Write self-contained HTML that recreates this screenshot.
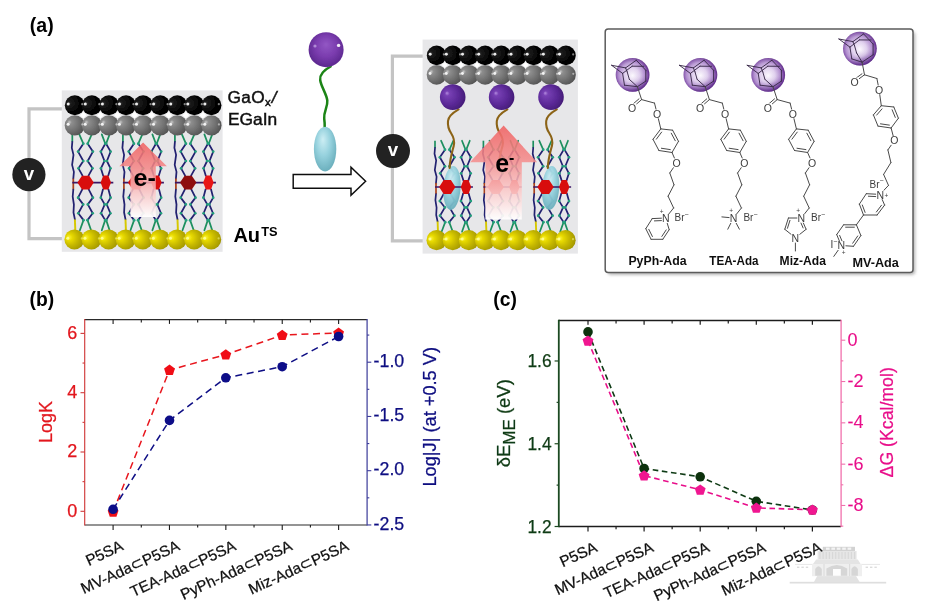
<!DOCTYPE html>
<html lang="en"><head><meta charset="utf-8"><title>Figure</title>
<style>html,body{margin:0;padding:0;background:#fff;overflow:hidden}svg{display:block;font-family:'Liberation Sans', sans-serif}</style></head><body>
<svg width="929" height="610" viewBox="0 0 929 610">
<rect x="0" y="0" width="929" height="610" fill="#ffffff"/>
<defs>
<radialGradient id="gBlack" cx="0.32" cy="0.36" r="0.75" fx="0.2" fy="0.42"><stop offset="0" stop-color="#5a5a5a"/><stop offset="0.12" stop-color="#1c1c1c"/><stop offset="0.6" stop-color="#050505"/><stop offset="1" stop-color="#000"/></radialGradient>
<radialGradient id="gGrey" cx="0.35" cy="0.38" r="0.8" fx="0.22" fy="0.34"><stop offset="0" stop-color="#c8c8c8"/><stop offset="0.14" stop-color="#8e8e8e"/><stop offset="0.55" stop-color="#6e6e6e"/><stop offset="1" stop-color="#484848"/></radialGradient>
<radialGradient id="gGold" cx="0.4" cy="0.45" r="0.75" fx="0.2" fy="0.4"><stop offset="0" stop-color="#fdf440"/><stop offset="0.2" stop-color="#e8da00"/><stop offset="0.5" stop-color="#c6b800"/><stop offset="0.8" stop-color="#a89c00"/><stop offset="1" stop-color="#7a6e00"/></radialGradient>
<radialGradient id="gPurp" cx="0.42" cy="0.48" r="0.72" fx="0.27" fy="0.34"><stop offset="0" stop-color="#b48ae0"/><stop offset="0.13" stop-color="#7740b4"/><stop offset="0.55" stop-color="#5a2896"/><stop offset="1" stop-color="#3a1668"/></radialGradient>
<radialGradient id="gPurpBig" cx="0.5" cy="0.45" r="0.62" fx="0.5" fy="0.35"><stop offset="0" stop-color="#9257c4"/><stop offset="0.5" stop-color="#7a3cae"/><stop offset="0.85" stop-color="#5f2a92"/><stop offset="1" stop-color="#6d3a9c"/></radialGradient>
<radialGradient id="gAda" cx="0.47" cy="0.52" r="0.54" fx="0.5" fy="0.52"><stop offset="0" stop-color="#fbf8fd"/><stop offset="0.4" stop-color="#e0d0ee"/><stop offset="0.72" stop-color="#b08cce"/><stop offset="0.92" stop-color="#6f3a9a"/><stop offset="1" stop-color="#5a2880"/></radialGradient>
<linearGradient id="gAdaShade" x1="0.3" y1="0" x2="0.6" y2="1"><stop offset="0" stop-color="#ffffff" stop-opacity="0.18"/><stop offset="0.55" stop-color="#ffffff" stop-opacity="0"/><stop offset="0.75" stop-color="#4a1a78" stop-opacity="0.1"/><stop offset="1" stop-color="#4a1a78" stop-opacity="0.6"/></linearGradient>
<radialGradient id="gCyan" cx="0.45" cy="0.4" r="0.7" fx="0.4" fy="0.28"><stop offset="0" stop-color="#cdeef4"/><stop offset="0.45" stop-color="#97d2de"/><stop offset="1" stop-color="#5fa6b4"/></radialGradient>
<linearGradient id="gArrow" x1="0" y1="0" x2="0" y2="1"><stop offset="0" stop-color="#f06464" stop-opacity="0.9"/><stop offset="0.35" stop-color="#f48888" stop-opacity="0.86"/><stop offset="0.7" stop-color="#fbcccc" stop-opacity="0.88"/><stop offset="1" stop-color="#ffffff" stop-opacity="0.95"/></linearGradient>
<filter id="blur1" x="-20%" y="-20%" width="140%" height="140%"><feGaussianBlur stdDeviation="0.6"/></filter>
<filter id="blur2" x="-20%" y="-20%" width="140%" height="140%"><feGaussianBlur stdDeviation="1.5"/></filter>
<filter id="soft" x="-5%" y="-5%" width="110%" height="110%"><feGaussianBlur stdDeviation="0.45"/></filter>
<filter id="softAll" x="0" y="0" width="929" height="610" filterUnits="userSpaceOnUse"><feGaussianBlur stdDeviation="0.42"/></filter>
</defs>
<g id="all" filter="url(#softAll)">
<g id="dev-left">
<polyline points="62,108.8 29,108.8 29,238.6 62,238.6" stroke="#c4c4c4" stroke-width="3.2" fill="none"/>
<rect x="61.8" y="90.4" width="160.8" height="161.4" fill="#e7e7e9"/>
<g>
<line x1="72.3" y1="134.4" x2="72.3" y2="141.9" stroke="#1f8f5f" stroke-width="1.75"/>
<polyline points="72.3,141.9 71.8,147.9 73.5,154.9 72.1,164.9 73.9,171.9 73.3,178.6" stroke="#222070" stroke-width="1.75" fill="none" stroke-linejoin="round" stroke-linecap="round"/>
<line x1="73.3" y1="178.6" x2="73.3" y2="189.6" stroke="#a8401c" stroke-width="1.75"/>
<polyline points="73.3,189.6 72.7,196.54 73.9,204.5 73.5,212.47 74.9,219.44" stroke="#222070" stroke-width="1.75" fill="none" stroke-linejoin="round" stroke-linecap="round"/>
<line x1="74.9" y1="219.44" x2="75.3" y2="230.3" stroke="#d6c800" stroke-width="1.95"/>
<polyline points="82.5,175.7 78.5,168.3 83.3,161 78.1,151.6 83.3,143.7" stroke="#222070" stroke-width="1.75" fill="none" stroke-linejoin="round" stroke-linecap="round"/>
<line x1="83.3" y1="143.7" x2="79.3" y2="134.4" stroke="#1f8f5f" stroke-width="1.75" stroke-linecap="round"/>
<polyline points="82.3,189.27 78.1,197.63 83.2,204.4 78.3,213.27 83.5,220.14" stroke="#222070" stroke-width="1.75" fill="none" stroke-linejoin="round" stroke-linecap="round"/>
<line x1="83.5" y1="220.14" x2="79.9" y2="230.3" stroke="#1f8f5f" stroke-width="1.75" stroke-linecap="round"/>
<circle cx="78.5" cy="168.3" r="1.35" fill="#22a07c"/>
<circle cx="83.3" cy="161" r="1.35" fill="#22a07c"/>
<circle cx="78.1" cy="151.6" r="1.35" fill="#22a07c"/>
<circle cx="83.3" cy="143.7" r="1.35" fill="#22a07c"/>
<circle cx="78.1" cy="197.63" r="1.35" fill="#22a07c"/>
<circle cx="83.2" cy="204.4" r="1.35" fill="#22a07c"/>
<circle cx="78.3" cy="213.27" r="1.35" fill="#22a07c"/>
<circle cx="83.5" cy="220.14" r="1.35" fill="#22a07c"/>
<polyline points="88.5,175.7 92.5,168.3 87.7,161 92.9,151.6 87.7,143.7" stroke="#222070" stroke-width="1.75" fill="none" stroke-linejoin="round" stroke-linecap="round"/>
<line x1="87.7" y1="143.7" x2="91.7" y2="134.4" stroke="#1f8f5f" stroke-width="1.75" stroke-linecap="round"/>
<polyline points="88.7,189.27 92.9,197.63 87.8,204.4 92.7,213.27 87.5,220.14" stroke="#222070" stroke-width="1.75" fill="none" stroke-linejoin="round" stroke-linecap="round"/>
<line x1="87.5" y1="220.14" x2="91.1" y2="230.3" stroke="#1f8f5f" stroke-width="1.75" stroke-linecap="round"/>
<circle cx="92.5" cy="168.3" r="1.35" fill="#22a07c"/>
<circle cx="87.7" cy="161" r="1.35" fill="#22a07c"/>
<circle cx="92.9" cy="151.6" r="1.35" fill="#22a07c"/>
<circle cx="87.7" cy="143.7" r="1.35" fill="#22a07c"/>
<circle cx="92.9" cy="197.63" r="1.35" fill="#22a07c"/>
<circle cx="87.8" cy="204.4" r="1.35" fill="#22a07c"/>
<circle cx="92.7" cy="213.27" r="1.35" fill="#22a07c"/>
<circle cx="87.5" cy="220.14" r="1.35" fill="#22a07c"/>
<polyline points="103.2,175.7 100.9,168.3 104.5,161 100.8,151.6 105.3,143.7" stroke="#222070" stroke-width="1.75" fill="none" stroke-linejoin="round" stroke-linecap="round"/>
<line x1="105.3" y1="143.7" x2="101.8" y2="134.4" stroke="#1f8f5f" stroke-width="1.75" stroke-linecap="round"/>
<polyline points="103,189.27 100.8,197.63 104.7,204.4 101,213.27 105.2,220.14" stroke="#222070" stroke-width="1.75" fill="none" stroke-linejoin="round" stroke-linecap="round"/>
<line x1="105.2" y1="220.14" x2="101.8" y2="230.3" stroke="#1f8f5f" stroke-width="1.75" stroke-linecap="round"/>
<circle cx="100.9" cy="168.3" r="1.35" fill="#22a07c"/>
<circle cx="104.5" cy="161" r="1.35" fill="#22a07c"/>
<circle cx="100.8" cy="151.6" r="1.35" fill="#22a07c"/>
<circle cx="105.3" cy="143.7" r="1.35" fill="#22a07c"/>
<circle cx="100.8" cy="197.63" r="1.35" fill="#22a07c"/>
<circle cx="104.7" cy="204.4" r="1.35" fill="#22a07c"/>
<circle cx="101" cy="213.27" r="1.35" fill="#22a07c"/>
<circle cx="105.2" cy="220.14" r="1.35" fill="#22a07c"/>
<polyline points="108.2,175.7 110.5,168.3 106.9,161 110.6,151.6 106.1,143.7" stroke="#222070" stroke-width="1.75" fill="none" stroke-linejoin="round" stroke-linecap="round"/>
<line x1="106.1" y1="143.7" x2="109.6" y2="134.4" stroke="#1f8f5f" stroke-width="1.75" stroke-linecap="round"/>
<polyline points="108.4,189.27 110.6,197.63 106.7,204.4 110.4,213.27 106.2,220.14" stroke="#222070" stroke-width="1.75" fill="none" stroke-linejoin="round" stroke-linecap="round"/>
<line x1="106.2" y1="220.14" x2="109.6" y2="230.3" stroke="#1f8f5f" stroke-width="1.75" stroke-linecap="round"/>
<circle cx="110.5" cy="168.3" r="1.35" fill="#22a07c"/>
<circle cx="106.9" cy="161" r="1.35" fill="#22a07c"/>
<circle cx="110.6" cy="151.6" r="1.35" fill="#22a07c"/>
<circle cx="106.1" cy="143.7" r="1.35" fill="#22a07c"/>
<circle cx="110.6" cy="197.63" r="1.35" fill="#22a07c"/>
<circle cx="106.7" cy="204.4" r="1.35" fill="#22a07c"/>
<circle cx="110.4" cy="213.27" r="1.35" fill="#22a07c"/>
<circle cx="106.2" cy="220.14" r="1.35" fill="#22a07c"/>
<line x1="72.3" y1="182.6" x2="113.3" y2="182.6" stroke="#3a1466" stroke-width="1.75"/>
<polygon points="77.4,182.6 82,175.7 89.2,175.7 93.8,182.6 89.2,189.5 82,189.5" fill="#d80c0c" stroke="none" stroke-width="0"/>
<polygon points="100.6,182.6 103.3,175.6 108.3,175.6 111,182.6 108.3,189.6 103.3,189.6" fill="#d80c0c" stroke="none" stroke-width="0"/>
</g>
<g>
<line x1="122.9" y1="134.4" x2="122.9" y2="141.9" stroke="#1f8f5f" stroke-width="1.75"/>
<polyline points="122.9,141.9 122.4,147.9 124.1,154.9 122.7,164.9 124.5,171.9 123.9,178.6" stroke="#222070" stroke-width="1.75" fill="none" stroke-linejoin="round" stroke-linecap="round"/>
<line x1="123.9" y1="178.6" x2="123.9" y2="189.6" stroke="#a8401c" stroke-width="1.75"/>
<polyline points="123.9,189.6 123.3,196.54 124.5,204.5 124.1,212.47 125.5,219.44" stroke="#222070" stroke-width="1.75" fill="none" stroke-linejoin="round" stroke-linecap="round"/>
<line x1="125.5" y1="219.44" x2="125.9" y2="230.3" stroke="#d6c800" stroke-width="1.95"/>
<polyline points="133.1,175.7 129.1,168.3 133.9,161 128.7,151.6 133.9,143.7" stroke="#222070" stroke-width="1.75" fill="none" stroke-linejoin="round" stroke-linecap="round"/>
<line x1="133.9" y1="143.7" x2="129.9" y2="134.4" stroke="#1f8f5f" stroke-width="1.75" stroke-linecap="round"/>
<polyline points="132.9,189.27 128.7,197.63 133.8,204.4 128.9,213.27 134.1,220.14" stroke="#222070" stroke-width="1.75" fill="none" stroke-linejoin="round" stroke-linecap="round"/>
<line x1="134.1" y1="220.14" x2="130.5" y2="230.3" stroke="#1f8f5f" stroke-width="1.75" stroke-linecap="round"/>
<circle cx="129.1" cy="168.3" r="1.35" fill="#22a07c"/>
<circle cx="133.9" cy="161" r="1.35" fill="#22a07c"/>
<circle cx="128.7" cy="151.6" r="1.35" fill="#22a07c"/>
<circle cx="133.9" cy="143.7" r="1.35" fill="#22a07c"/>
<circle cx="128.7" cy="197.63" r="1.35" fill="#22a07c"/>
<circle cx="133.8" cy="204.4" r="1.35" fill="#22a07c"/>
<circle cx="128.9" cy="213.27" r="1.35" fill="#22a07c"/>
<circle cx="134.1" cy="220.14" r="1.35" fill="#22a07c"/>
<polyline points="139.1,175.7 143.1,168.3 138.3,161 143.5,151.6 138.3,143.7" stroke="#222070" stroke-width="1.75" fill="none" stroke-linejoin="round" stroke-linecap="round"/>
<line x1="138.3" y1="143.7" x2="142.3" y2="134.4" stroke="#1f8f5f" stroke-width="1.75" stroke-linecap="round"/>
<polyline points="139.3,189.27 143.5,197.63 138.4,204.4 143.3,213.27 138.1,220.14" stroke="#222070" stroke-width="1.75" fill="none" stroke-linejoin="round" stroke-linecap="round"/>
<line x1="138.1" y1="220.14" x2="141.7" y2="230.3" stroke="#1f8f5f" stroke-width="1.75" stroke-linecap="round"/>
<circle cx="143.1" cy="168.3" r="1.35" fill="#22a07c"/>
<circle cx="138.3" cy="161" r="1.35" fill="#22a07c"/>
<circle cx="143.5" cy="151.6" r="1.35" fill="#22a07c"/>
<circle cx="138.3" cy="143.7" r="1.35" fill="#22a07c"/>
<circle cx="143.5" cy="197.63" r="1.35" fill="#22a07c"/>
<circle cx="138.4" cy="204.4" r="1.35" fill="#22a07c"/>
<circle cx="143.3" cy="213.27" r="1.35" fill="#22a07c"/>
<circle cx="138.1" cy="220.14" r="1.35" fill="#22a07c"/>
<polyline points="153.8,175.7 151.5,168.3 155.1,161 151.4,151.6 155.9,143.7" stroke="#222070" stroke-width="1.75" fill="none" stroke-linejoin="round" stroke-linecap="round"/>
<line x1="155.9" y1="143.7" x2="152.4" y2="134.4" stroke="#1f8f5f" stroke-width="1.75" stroke-linecap="round"/>
<polyline points="153.6,189.27 151.4,197.63 155.3,204.4 151.6,213.27 155.8,220.14" stroke="#222070" stroke-width="1.75" fill="none" stroke-linejoin="round" stroke-linecap="round"/>
<line x1="155.8" y1="220.14" x2="152.4" y2="230.3" stroke="#1f8f5f" stroke-width="1.75" stroke-linecap="round"/>
<circle cx="151.5" cy="168.3" r="1.35" fill="#22a07c"/>
<circle cx="155.1" cy="161" r="1.35" fill="#22a07c"/>
<circle cx="151.4" cy="151.6" r="1.35" fill="#22a07c"/>
<circle cx="155.9" cy="143.7" r="1.35" fill="#22a07c"/>
<circle cx="151.4" cy="197.63" r="1.35" fill="#22a07c"/>
<circle cx="155.3" cy="204.4" r="1.35" fill="#22a07c"/>
<circle cx="151.6" cy="213.27" r="1.35" fill="#22a07c"/>
<circle cx="155.8" cy="220.14" r="1.35" fill="#22a07c"/>
<polyline points="158.8,175.7 161.1,168.3 157.5,161 161.2,151.6 156.7,143.7" stroke="#222070" stroke-width="1.75" fill="none" stroke-linejoin="round" stroke-linecap="round"/>
<line x1="156.7" y1="143.7" x2="160.2" y2="134.4" stroke="#1f8f5f" stroke-width="1.75" stroke-linecap="round"/>
<polyline points="159,189.27 161.2,197.63 157.3,204.4 161,213.27 156.8,220.14" stroke="#222070" stroke-width="1.75" fill="none" stroke-linejoin="round" stroke-linecap="round"/>
<line x1="156.8" y1="220.14" x2="160.2" y2="230.3" stroke="#1f8f5f" stroke-width="1.75" stroke-linecap="round"/>
<circle cx="161.1" cy="168.3" r="1.35" fill="#22a07c"/>
<circle cx="157.5" cy="161" r="1.35" fill="#22a07c"/>
<circle cx="161.2" cy="151.6" r="1.35" fill="#22a07c"/>
<circle cx="156.7" cy="143.7" r="1.35" fill="#22a07c"/>
<circle cx="161.2" cy="197.63" r="1.35" fill="#22a07c"/>
<circle cx="157.3" cy="204.4" r="1.35" fill="#22a07c"/>
<circle cx="161" cy="213.27" r="1.35" fill="#22a07c"/>
<circle cx="156.8" cy="220.14" r="1.35" fill="#22a07c"/>
<line x1="122.9" y1="182.6" x2="163.9" y2="182.6" stroke="#3a1466" stroke-width="1.75"/>
<polygon points="128,182.6 132.6,175.7 139.8,175.7 144.4,182.6 139.8,189.5 132.6,189.5" fill="#d80c0c" stroke="none" stroke-width="0"/>
<polygon points="151.2,182.6 153.9,175.6 158.9,175.6 161.6,182.6 158.9,189.6 153.9,189.6" fill="#d80c0c" stroke="none" stroke-width="0"/>
</g>
<g>
<line x1="174.9" y1="134.4" x2="174.9" y2="141.9" stroke="#1f8f5f" stroke-width="1.75"/>
<polyline points="174.9,141.9 174.4,147.9 176.1,154.9 174.7,164.9 176.5,171.9 175.9,178.6" stroke="#222070" stroke-width="1.75" fill="none" stroke-linejoin="round" stroke-linecap="round"/>
<line x1="175.9" y1="178.6" x2="175.9" y2="189.6" stroke="#a8401c" stroke-width="1.75"/>
<polyline points="175.9,189.6 175.3,196.54 176.5,204.5 176.1,212.47 177.5,219.44" stroke="#222070" stroke-width="1.75" fill="none" stroke-linejoin="round" stroke-linecap="round"/>
<line x1="177.5" y1="219.44" x2="177.9" y2="230.3" stroke="#d6c800" stroke-width="1.95"/>
<polyline points="185.1,175.7 181.1,168.3 185.9,161 180.7,151.6 185.9,143.7" stroke="#222070" stroke-width="1.75" fill="none" stroke-linejoin="round" stroke-linecap="round"/>
<line x1="185.9" y1="143.7" x2="181.9" y2="134.4" stroke="#1f8f5f" stroke-width="1.75" stroke-linecap="round"/>
<polyline points="184.9,189.27 180.7,197.63 185.8,204.4 180.9,213.27 186.1,220.14" stroke="#222070" stroke-width="1.75" fill="none" stroke-linejoin="round" stroke-linecap="round"/>
<line x1="186.1" y1="220.14" x2="182.5" y2="230.3" stroke="#1f8f5f" stroke-width="1.75" stroke-linecap="round"/>
<circle cx="181.1" cy="168.3" r="1.35" fill="#22a07c"/>
<circle cx="185.9" cy="161" r="1.35" fill="#22a07c"/>
<circle cx="180.7" cy="151.6" r="1.35" fill="#22a07c"/>
<circle cx="185.9" cy="143.7" r="1.35" fill="#22a07c"/>
<circle cx="180.7" cy="197.63" r="1.35" fill="#22a07c"/>
<circle cx="185.8" cy="204.4" r="1.35" fill="#22a07c"/>
<circle cx="180.9" cy="213.27" r="1.35" fill="#22a07c"/>
<circle cx="186.1" cy="220.14" r="1.35" fill="#22a07c"/>
<polyline points="191.1,175.7 195.1,168.3 190.3,161 195.5,151.6 190.3,143.7" stroke="#222070" stroke-width="1.75" fill="none" stroke-linejoin="round" stroke-linecap="round"/>
<line x1="190.3" y1="143.7" x2="194.3" y2="134.4" stroke="#1f8f5f" stroke-width="1.75" stroke-linecap="round"/>
<polyline points="191.3,189.27 195.5,197.63 190.4,204.4 195.3,213.27 190.1,220.14" stroke="#222070" stroke-width="1.75" fill="none" stroke-linejoin="round" stroke-linecap="round"/>
<line x1="190.1" y1="220.14" x2="193.7" y2="230.3" stroke="#1f8f5f" stroke-width="1.75" stroke-linecap="round"/>
<circle cx="195.1" cy="168.3" r="1.35" fill="#22a07c"/>
<circle cx="190.3" cy="161" r="1.35" fill="#22a07c"/>
<circle cx="195.5" cy="151.6" r="1.35" fill="#22a07c"/>
<circle cx="190.3" cy="143.7" r="1.35" fill="#22a07c"/>
<circle cx="195.5" cy="197.63" r="1.35" fill="#22a07c"/>
<circle cx="190.4" cy="204.4" r="1.35" fill="#22a07c"/>
<circle cx="195.3" cy="213.27" r="1.35" fill="#22a07c"/>
<circle cx="190.1" cy="220.14" r="1.35" fill="#22a07c"/>
<polyline points="205.8,175.7 203.5,168.3 207.1,161 203.4,151.6 207.9,143.7" stroke="#222070" stroke-width="1.75" fill="none" stroke-linejoin="round" stroke-linecap="round"/>
<line x1="207.9" y1="143.7" x2="204.4" y2="134.4" stroke="#1f8f5f" stroke-width="1.75" stroke-linecap="round"/>
<polyline points="205.6,189.27 203.4,197.63 207.3,204.4 203.6,213.27 207.8,220.14" stroke="#222070" stroke-width="1.75" fill="none" stroke-linejoin="round" stroke-linecap="round"/>
<line x1="207.8" y1="220.14" x2="204.4" y2="230.3" stroke="#1f8f5f" stroke-width="1.75" stroke-linecap="round"/>
<circle cx="203.5" cy="168.3" r="1.35" fill="#22a07c"/>
<circle cx="207.1" cy="161" r="1.35" fill="#22a07c"/>
<circle cx="203.4" cy="151.6" r="1.35" fill="#22a07c"/>
<circle cx="207.9" cy="143.7" r="1.35" fill="#22a07c"/>
<circle cx="203.4" cy="197.63" r="1.35" fill="#22a07c"/>
<circle cx="207.3" cy="204.4" r="1.35" fill="#22a07c"/>
<circle cx="203.6" cy="213.27" r="1.35" fill="#22a07c"/>
<circle cx="207.8" cy="220.14" r="1.35" fill="#22a07c"/>
<polyline points="210.8,175.7 213.1,168.3 209.5,161 213.2,151.6 208.7,143.7" stroke="#222070" stroke-width="1.75" fill="none" stroke-linejoin="round" stroke-linecap="round"/>
<line x1="208.7" y1="143.7" x2="212.2" y2="134.4" stroke="#1f8f5f" stroke-width="1.75" stroke-linecap="round"/>
<polyline points="211,189.27 213.2,197.63 209.3,204.4 213,213.27 208.8,220.14" stroke="#222070" stroke-width="1.75" fill="none" stroke-linejoin="round" stroke-linecap="round"/>
<line x1="208.8" y1="220.14" x2="212.2" y2="230.3" stroke="#1f8f5f" stroke-width="1.75" stroke-linecap="round"/>
<circle cx="213.1" cy="168.3" r="1.35" fill="#22a07c"/>
<circle cx="209.5" cy="161" r="1.35" fill="#22a07c"/>
<circle cx="213.2" cy="151.6" r="1.35" fill="#22a07c"/>
<circle cx="208.7" cy="143.7" r="1.35" fill="#22a07c"/>
<circle cx="213.2" cy="197.63" r="1.35" fill="#22a07c"/>
<circle cx="209.3" cy="204.4" r="1.35" fill="#22a07c"/>
<circle cx="213" cy="213.27" r="1.35" fill="#22a07c"/>
<circle cx="208.8" cy="220.14" r="1.35" fill="#22a07c"/>
<line x1="174.9" y1="182.6" x2="215.9" y2="182.6" stroke="#3a1466" stroke-width="1.75"/>
<polygon points="180,182.6 184.6,175.7 191.8,175.7 196.4,182.6 191.8,189.5 184.6,189.5" fill="#8e0a0a" stroke="none" stroke-width="0"/>
<polygon points="203.2,182.6 205.9,175.6 210.9,175.6 213.6,182.6 210.9,189.6 205.9,189.6" fill="#e81414" stroke="none" stroke-width="0"/>
</g>
<polygon points="143.1,142.6 166.9,166.3 155.8,166.3 155.8,217 130.4,217 130.4,166.3 119.3,166.3" fill="url(#gArrow)" stroke="none" stroke-width="0"/>
<polygon points="80.04,115.3 83.34,112 86.64,115.3 83.34,118.6" fill="#ffffff" stroke="none" stroke-width="0"/>
<polygon points="97.12,115.3 100.42,112 103.72,115.3 100.42,118.6" fill="#ffffff" stroke="none" stroke-width="0"/>
<polygon points="114.2,115.3 117.5,112 120.8,115.3 117.5,118.6" fill="#ffffff" stroke="none" stroke-width="0"/>
<polygon points="131.28,115.3 134.58,112 137.88,115.3 134.58,118.6" fill="#ffffff" stroke="none" stroke-width="0"/>
<polygon points="148.36,115.3 151.66,112 154.96,115.3 151.66,118.6" fill="#ffffff" stroke="none" stroke-width="0"/>
<polygon points="165.44,115.3 168.74,112 172.04,115.3 168.74,118.6" fill="#ffffff" stroke="none" stroke-width="0"/>
<polygon points="182.52,115.3 185.82,112 189.12,115.3 185.82,118.6" fill="#ffffff" stroke="none" stroke-width="0"/>
<polygon points="199.6,115.3 202.9,112 206.2,115.3 202.9,118.6" fill="#ffffff" stroke="none" stroke-width="0"/>
<circle cx="74.8" cy="105.2" r="10" fill="url(#gBlack)"/>
<circle cx="91.88" cy="105.2" r="10" fill="url(#gBlack)"/>
<circle cx="108.96" cy="105.2" r="10" fill="url(#gBlack)"/>
<circle cx="126.04" cy="105.2" r="10" fill="url(#gBlack)"/>
<circle cx="143.12" cy="105.2" r="10" fill="url(#gBlack)"/>
<circle cx="160.2" cy="105.2" r="10" fill="url(#gBlack)"/>
<circle cx="177.28" cy="105.2" r="10" fill="url(#gBlack)"/>
<circle cx="194.36" cy="105.2" r="10" fill="url(#gBlack)"/>
<circle cx="211.44" cy="105.2" r="10" fill="url(#gBlack)"/>
<circle cx="68.2" cy="104" r="1.5" fill="#ffffff" opacity="0.9" filter="url(#blur1)"/>
<circle cx="82.2" cy="104.2" r="1.1" fill="#ffffff" opacity="0.49500000000000005" filter="url(#blur1)"/>
<circle cx="85.28" cy="104" r="1.5" fill="#ffffff" opacity="0.9" filter="url(#blur1)"/>
<circle cx="99.28" cy="104.2" r="1.1" fill="#ffffff" opacity="0.49500000000000005" filter="url(#blur1)"/>
<circle cx="102.36" cy="104" r="1.5" fill="#ffffff" opacity="0.9" filter="url(#blur1)"/>
<circle cx="116.36" cy="104.2" r="1.1" fill="#ffffff" opacity="0.49500000000000005" filter="url(#blur1)"/>
<circle cx="119.44" cy="104" r="1.5" fill="#ffffff" opacity="0.9" filter="url(#blur1)"/>
<circle cx="133.44" cy="104.2" r="1.1" fill="#ffffff" opacity="0.49500000000000005" filter="url(#blur1)"/>
<circle cx="136.52" cy="104" r="1.5" fill="#ffffff" opacity="0.9" filter="url(#blur1)"/>
<circle cx="150.52" cy="104.2" r="1.1" fill="#ffffff" opacity="0.49500000000000005" filter="url(#blur1)"/>
<circle cx="153.6" cy="104" r="1.5" fill="#ffffff" opacity="0.9" filter="url(#blur1)"/>
<circle cx="167.6" cy="104.2" r="1.1" fill="#ffffff" opacity="0.49500000000000005" filter="url(#blur1)"/>
<circle cx="170.68" cy="104" r="1.5" fill="#ffffff" opacity="0.9" filter="url(#blur1)"/>
<circle cx="184.68" cy="104.2" r="1.1" fill="#ffffff" opacity="0.49500000000000005" filter="url(#blur1)"/>
<circle cx="187.76" cy="104" r="1.5" fill="#ffffff" opacity="0.9" filter="url(#blur1)"/>
<circle cx="201.76" cy="104.2" r="1.1" fill="#ffffff" opacity="0.49500000000000005" filter="url(#blur1)"/>
<circle cx="204.84" cy="104" r="1.5" fill="#ffffff" opacity="0.9" filter="url(#blur1)"/>
<circle cx="218.84" cy="104.2" r="1.1" fill="#ffffff" opacity="0.49500000000000005" filter="url(#blur1)"/>
<circle cx="74.8" cy="125.4" r="10.1" fill="url(#gGrey)"/>
<circle cx="91.88" cy="125.4" r="10.1" fill="url(#gGrey)"/>
<circle cx="108.96" cy="125.4" r="10.1" fill="url(#gGrey)"/>
<circle cx="126.04" cy="125.4" r="10.1" fill="url(#gGrey)"/>
<circle cx="143.12" cy="125.4" r="10.1" fill="url(#gGrey)"/>
<circle cx="160.2" cy="125.4" r="10.1" fill="url(#gGrey)"/>
<circle cx="177.28" cy="125.4" r="10.1" fill="url(#gGrey)"/>
<circle cx="194.36" cy="125.4" r="10.1" fill="url(#gGrey)"/>
<circle cx="211.44" cy="125.4" r="10.1" fill="url(#gGrey)"/>
<circle cx="68.13" cy="124.19" r="1.51" fill="#ffffff" opacity="0.9" filter="url(#blur1)"/>
<circle cx="82.27" cy="124.39" r="1.11" fill="#ffffff" opacity="0.49500000000000005" filter="url(#blur1)"/>
<circle cx="85.21" cy="124.19" r="1.51" fill="#ffffff" opacity="0.9" filter="url(#blur1)"/>
<circle cx="99.35" cy="124.39" r="1.11" fill="#ffffff" opacity="0.49500000000000005" filter="url(#blur1)"/>
<circle cx="102.29" cy="124.19" r="1.51" fill="#ffffff" opacity="0.9" filter="url(#blur1)"/>
<circle cx="116.43" cy="124.39" r="1.11" fill="#ffffff" opacity="0.49500000000000005" filter="url(#blur1)"/>
<circle cx="119.37" cy="124.19" r="1.51" fill="#ffffff" opacity="0.9" filter="url(#blur1)"/>
<circle cx="133.51" cy="124.39" r="1.11" fill="#ffffff" opacity="0.49500000000000005" filter="url(#blur1)"/>
<circle cx="136.45" cy="124.19" r="1.51" fill="#ffffff" opacity="0.9" filter="url(#blur1)"/>
<circle cx="150.59" cy="124.39" r="1.11" fill="#ffffff" opacity="0.49500000000000005" filter="url(#blur1)"/>
<circle cx="153.53" cy="124.19" r="1.51" fill="#ffffff" opacity="0.9" filter="url(#blur1)"/>
<circle cx="167.67" cy="124.39" r="1.11" fill="#ffffff" opacity="0.49500000000000005" filter="url(#blur1)"/>
<circle cx="170.61" cy="124.19" r="1.51" fill="#ffffff" opacity="0.9" filter="url(#blur1)"/>
<circle cx="184.75" cy="124.39" r="1.11" fill="#ffffff" opacity="0.49500000000000005" filter="url(#blur1)"/>
<circle cx="187.69" cy="124.19" r="1.51" fill="#ffffff" opacity="0.9" filter="url(#blur1)"/>
<circle cx="201.83" cy="124.39" r="1.11" fill="#ffffff" opacity="0.49500000000000005" filter="url(#blur1)"/>
<circle cx="204.77" cy="124.19" r="1.51" fill="#ffffff" opacity="0.9" filter="url(#blur1)"/>
<circle cx="218.91" cy="124.39" r="1.11" fill="#ffffff" opacity="0.49500000000000005" filter="url(#blur1)"/>
<circle cx="74.4" cy="239.4" r="10" fill="url(#gGold)"/>
<circle cx="91.5" cy="239.4" r="10" fill="url(#gGold)"/>
<circle cx="108.6" cy="239.4" r="10" fill="url(#gGold)"/>
<circle cx="125.7" cy="239.4" r="10" fill="url(#gGold)"/>
<circle cx="142.8" cy="239.4" r="10" fill="url(#gGold)"/>
<circle cx="159.9" cy="239.4" r="10" fill="url(#gGold)"/>
<circle cx="177" cy="239.4" r="10" fill="url(#gGold)"/>
<circle cx="194.1" cy="239.4" r="10" fill="url(#gGold)"/>
<circle cx="211.2" cy="239.4" r="10" fill="url(#gGold)"/>
<circle cx="67.8" cy="238.2" r="1.5" fill="#ffff9a" opacity="0.9" filter="url(#blur1)"/>
<circle cx="81.8" cy="238.4" r="1.1" fill="#ffff9a" opacity="0.49500000000000005" filter="url(#blur1)"/>
<circle cx="84.9" cy="238.2" r="1.5" fill="#ffff9a" opacity="0.9" filter="url(#blur1)"/>
<circle cx="98.9" cy="238.4" r="1.1" fill="#ffff9a" opacity="0.49500000000000005" filter="url(#blur1)"/>
<circle cx="102" cy="238.2" r="1.5" fill="#ffff9a" opacity="0.9" filter="url(#blur1)"/>
<circle cx="116" cy="238.4" r="1.1" fill="#ffff9a" opacity="0.49500000000000005" filter="url(#blur1)"/>
<circle cx="119.1" cy="238.2" r="1.5" fill="#ffff9a" opacity="0.9" filter="url(#blur1)"/>
<circle cx="133.1" cy="238.4" r="1.1" fill="#ffff9a" opacity="0.49500000000000005" filter="url(#blur1)"/>
<circle cx="136.2" cy="238.2" r="1.5" fill="#ffff9a" opacity="0.9" filter="url(#blur1)"/>
<circle cx="150.2" cy="238.4" r="1.1" fill="#ffff9a" opacity="0.49500000000000005" filter="url(#blur1)"/>
<circle cx="153.3" cy="238.2" r="1.5" fill="#ffff9a" opacity="0.9" filter="url(#blur1)"/>
<circle cx="167.3" cy="238.4" r="1.1" fill="#ffff9a" opacity="0.49500000000000005" filter="url(#blur1)"/>
<circle cx="170.4" cy="238.2" r="1.5" fill="#ffff9a" opacity="0.9" filter="url(#blur1)"/>
<circle cx="184.4" cy="238.4" r="1.1" fill="#ffff9a" opacity="0.49500000000000005" filter="url(#blur1)"/>
<circle cx="187.5" cy="238.2" r="1.5" fill="#ffff9a" opacity="0.9" filter="url(#blur1)"/>
<circle cx="201.5" cy="238.4" r="1.1" fill="#ffff9a" opacity="0.49500000000000005" filter="url(#blur1)"/>
<circle cx="204.6" cy="238.2" r="1.5" fill="#ffff9a" opacity="0.9" filter="url(#blur1)"/>
<circle cx="218.6" cy="238.4" r="1.1" fill="#ffff9a" opacity="0.49500000000000005" filter="url(#blur1)"/>
<text x="133.4" y="186.2" font-size="23" fill="#000" font-weight="bold" text-anchor="start" textLength="22.4" lengthAdjust="spacingAndGlyphs">e-</text>
<circle cx="28.9" cy="174.6" r="16.6" fill="#222222"/>
<text x="28.9" y="179.7" font-size="18.75" fill="#fff" font-weight="bold" text-anchor="middle">v</text>
<text x="227.4" y="103.2" font-size="17.3" fill="#111" stroke="#111" stroke-width="0.45" letter-spacing="0.35">GaO<tspan font-size="11.5" dy="3">x</tspan><tspan dy="-3" dx="0.8" font-style="italic">/</tspan></text>
<text x="228" y="124.5" font-size="17" fill="#111" font-weight="normal" text-anchor="start" textLength="49.2" lengthAdjust="spacingAndGlyphs" stroke="#111" stroke-width="0.45">EGaIn</text>
<text x="233.4" y="242.2" font-size="20" font-weight="bold" fill="#000">Au<tspan font-size="12.8" dy="-6.1" dx="1.2">TS</tspan></text>
<text x="29.8" y="31.6" font-size="19.5" fill="#000" font-weight="bold" text-anchor="start">(a)</text>
</g>
<g id="mid">
<path d="M330.6 66.5 C 325 69.5, 319.4 73.5, 320.2 80 S 326.6 94, 327.3 100.5 S 323.4 112, 324.2 118.5 S 324.8 124, 324.6 129" stroke="#1c8418" stroke-width="2.5" fill="none" stroke-linecap="round"/>
<ellipse cx="325.1" cy="149.1" rx="11.2" ry="22.4" fill="url(#gCyan)"/>
<circle cx="326.1" cy="49.7" r="17.5" fill="url(#gPurpBig)"/>
<circle cx="338.6" cy="45.4" r="1.7" fill="#fff" opacity="0.9" filter="url(#blur1)"/><circle cx="315" cy="46" r="1.6" fill="#e8d8ff" opacity="0.5" filter="url(#blur1)"/>
<polygon points="293.2,174.4 351,174.4 351,167.2 365.6,181.3 351,195.3 351,188.2 293.2,188.2" fill="#fff" stroke="#111" stroke-width="1.5"/>
</g>
<g id="dev-right">
<polyline points="423,56.2 392.4,56.2 392.4,240.8 423,240.8" stroke="#c4c4c4" stroke-width="3.2" fill="none"/>
<rect x="422.6" y="39.6" width="155.3" height="214" fill="#e7e7e9"/>
<g>
<line x1="435" y1="140.7" x2="435" y2="147.96" stroke="#1f8f5f" stroke-width="1.7"/>
<polyline points="435,147.96 434.5,153.71 436.2,160.43 434.8,170.02 436.6,176.74 436,183" stroke="#222070" stroke-width="1.7" fill="none" stroke-linejoin="round" stroke-linecap="round"/>
<line x1="436" y1="183" x2="436" y2="194" stroke="#a8401c" stroke-width="1.7"/>
<polyline points="436,194 435.4,200.05 436.6,207.51 436.2,214.97 437.6,221.5" stroke="#222070" stroke-width="1.7" fill="none" stroke-linejoin="round" stroke-linecap="round"/>
<line x1="437.6" y1="221.5" x2="438" y2="231.8" stroke="#d6c800" stroke-width="1.9"/>
<polyline points="444.21,180.38 440.21,173.28 445.01,166.28 439.81,157.26 445.01,149.68" stroke="#222070" stroke-width="1.7" fill="none" stroke-linejoin="round" stroke-linecap="round"/>
<line x1="445.01" y1="149.68" x2="441.01" y2="140.7" stroke="#1f8f5f" stroke-width="1.7" stroke-linecap="round"/>
<polyline points="444.01,193.25 439.81,201.08 444.91,207.42 440.01,215.72 445.21,222.15" stroke="#222070" stroke-width="1.7" fill="none" stroke-linejoin="round" stroke-linecap="round"/>
<line x1="445.21" y1="222.15" x2="441.61" y2="231.8" stroke="#1f8f5f" stroke-width="1.7" stroke-linecap="round"/>
<circle cx="440.21" cy="173.28" r="1.35" fill="#22a07c"/>
<circle cx="445.01" cy="166.28" r="1.35" fill="#22a07c"/>
<circle cx="439.81" cy="157.26" r="1.35" fill="#22a07c"/>
<circle cx="445.01" cy="149.68" r="1.35" fill="#22a07c"/>
<circle cx="439.81" cy="201.08" r="1.35" fill="#22a07c"/>
<circle cx="444.91" cy="207.42" r="1.35" fill="#22a07c"/>
<circle cx="440.01" cy="215.72" r="1.35" fill="#22a07c"/>
<circle cx="445.21" cy="222.15" r="1.35" fill="#22a07c"/>
<polyline points="450.21,180.38 454.21,173.28 449.41,166.28 454.61,157.26 449.41,149.68" stroke="#222070" stroke-width="1.7" fill="none" stroke-linejoin="round" stroke-linecap="round"/>
<line x1="449.41" y1="149.68" x2="453.41" y2="140.7" stroke="#1f8f5f" stroke-width="1.7" stroke-linecap="round"/>
<polyline points="450.41,193.25 454.61,201.08 449.51,207.42 454.41,215.72 449.21,222.15" stroke="#222070" stroke-width="1.7" fill="none" stroke-linejoin="round" stroke-linecap="round"/>
<line x1="449.21" y1="222.15" x2="452.81" y2="231.8" stroke="#1f8f5f" stroke-width="1.7" stroke-linecap="round"/>
<circle cx="454.21" cy="173.28" r="1.35" fill="#22a07c"/>
<circle cx="449.41" cy="166.28" r="1.35" fill="#22a07c"/>
<circle cx="454.61" cy="157.26" r="1.35" fill="#22a07c"/>
<circle cx="449.41" cy="149.68" r="1.35" fill="#22a07c"/>
<circle cx="454.61" cy="201.08" r="1.35" fill="#22a07c"/>
<circle cx="449.51" cy="207.42" r="1.35" fill="#22a07c"/>
<circle cx="454.41" cy="215.72" r="1.35" fill="#22a07c"/>
<circle cx="449.21" cy="222.15" r="1.35" fill="#22a07c"/>
<polyline points="463.39,180.38 461.09,173.28 464.69,166.28 461,157.26 465.5,149.68" stroke="#222070" stroke-width="1.7" fill="none" stroke-linejoin="round" stroke-linecap="round"/>
<line x1="465.5" y1="149.68" x2="462" y2="140.7" stroke="#1f8f5f" stroke-width="1.7" stroke-linecap="round"/>
<polyline points="463.19,193.25 461,201.08 464.89,207.42 461.19,215.72 465.39,222.15" stroke="#222070" stroke-width="1.7" fill="none" stroke-linejoin="round" stroke-linecap="round"/>
<line x1="465.39" y1="222.15" x2="462" y2="231.8" stroke="#1f8f5f" stroke-width="1.7" stroke-linecap="round"/>
<circle cx="461.09" cy="173.28" r="1.35" fill="#22a07c"/>
<circle cx="464.69" cy="166.28" r="1.35" fill="#22a07c"/>
<circle cx="461" cy="157.26" r="1.35" fill="#22a07c"/>
<circle cx="465.5" cy="149.68" r="1.35" fill="#22a07c"/>
<circle cx="461" cy="201.08" r="1.35" fill="#22a07c"/>
<circle cx="464.89" cy="207.42" r="1.35" fill="#22a07c"/>
<circle cx="461.19" cy="215.72" r="1.35" fill="#22a07c"/>
<circle cx="465.39" cy="222.15" r="1.35" fill="#22a07c"/>
<polyline points="468.39,180.38 470.69,173.28 467.09,166.28 470.79,157.26 466.29,149.68" stroke="#222070" stroke-width="1.7" fill="none" stroke-linejoin="round" stroke-linecap="round"/>
<line x1="466.29" y1="149.68" x2="469.79" y2="140.7" stroke="#1f8f5f" stroke-width="1.7" stroke-linecap="round"/>
<polyline points="468.59,193.25 470.79,201.08 466.89,207.42 470.59,215.72 466.39,222.15" stroke="#222070" stroke-width="1.7" fill="none" stroke-linejoin="round" stroke-linecap="round"/>
<line x1="466.39" y1="222.15" x2="469.79" y2="231.8" stroke="#1f8f5f" stroke-width="1.7" stroke-linecap="round"/>
<circle cx="470.69" cy="173.28" r="1.35" fill="#22a07c"/>
<circle cx="467.09" cy="166.28" r="1.35" fill="#22a07c"/>
<circle cx="470.79" cy="157.26" r="1.35" fill="#22a07c"/>
<circle cx="466.29" cy="149.68" r="1.35" fill="#22a07c"/>
<circle cx="470.79" cy="201.08" r="1.35" fill="#22a07c"/>
<circle cx="466.89" cy="207.42" r="1.35" fill="#22a07c"/>
<circle cx="470.59" cy="215.72" r="1.35" fill="#22a07c"/>
<circle cx="466.39" cy="222.15" r="1.35" fill="#22a07c"/>
</g>
<g>
<line x1="483.4" y1="140.7" x2="483.4" y2="147.96" stroke="#1f8f5f" stroke-width="1.7"/>
<polyline points="483.4,147.96 482.9,153.71 484.6,160.43 483.2,170.02 485,176.74 484.4,183" stroke="#222070" stroke-width="1.7" fill="none" stroke-linejoin="round" stroke-linecap="round"/>
<line x1="484.4" y1="183" x2="484.4" y2="194" stroke="#a8401c" stroke-width="1.7"/>
<polyline points="484.4,194 483.8,200.05 485,207.51 484.6,214.97 486,221.5" stroke="#222070" stroke-width="1.7" fill="none" stroke-linejoin="round" stroke-linecap="round"/>
<line x1="486" y1="221.5" x2="486.4" y2="231.8" stroke="#d6c800" stroke-width="1.9"/>
<polyline points="492.61,180.38 488.61,173.28 493.41,166.28 488.21,157.26 493.41,149.68" stroke="#222070" stroke-width="1.7" fill="none" stroke-linejoin="round" stroke-linecap="round"/>
<line x1="493.41" y1="149.68" x2="489.41" y2="140.7" stroke="#1f8f5f" stroke-width="1.7" stroke-linecap="round"/>
<polyline points="492.41,193.25 488.21,201.08 493.31,207.42 488.41,215.72 493.61,222.15" stroke="#222070" stroke-width="1.7" fill="none" stroke-linejoin="round" stroke-linecap="round"/>
<line x1="493.61" y1="222.15" x2="490.01" y2="231.8" stroke="#1f8f5f" stroke-width="1.7" stroke-linecap="round"/>
<circle cx="488.61" cy="173.28" r="1.35" fill="#22a07c"/>
<circle cx="493.41" cy="166.28" r="1.35" fill="#22a07c"/>
<circle cx="488.21" cy="157.26" r="1.35" fill="#22a07c"/>
<circle cx="493.41" cy="149.68" r="1.35" fill="#22a07c"/>
<circle cx="488.21" cy="201.08" r="1.35" fill="#22a07c"/>
<circle cx="493.31" cy="207.42" r="1.35" fill="#22a07c"/>
<circle cx="488.41" cy="215.72" r="1.35" fill="#22a07c"/>
<circle cx="493.61" cy="222.15" r="1.35" fill="#22a07c"/>
<polyline points="498.61,180.38 502.61,173.28 497.81,166.28 503.01,157.26 497.81,149.68" stroke="#222070" stroke-width="1.7" fill="none" stroke-linejoin="round" stroke-linecap="round"/>
<line x1="497.81" y1="149.68" x2="501.81" y2="140.7" stroke="#1f8f5f" stroke-width="1.7" stroke-linecap="round"/>
<polyline points="498.81,193.25 503.01,201.08 497.91,207.42 502.81,215.72 497.61,222.15" stroke="#222070" stroke-width="1.7" fill="none" stroke-linejoin="round" stroke-linecap="round"/>
<line x1="497.61" y1="222.15" x2="501.21" y2="231.8" stroke="#1f8f5f" stroke-width="1.7" stroke-linecap="round"/>
<circle cx="502.61" cy="173.28" r="1.35" fill="#22a07c"/>
<circle cx="497.81" cy="166.28" r="1.35" fill="#22a07c"/>
<circle cx="503.01" cy="157.26" r="1.35" fill="#22a07c"/>
<circle cx="497.81" cy="149.68" r="1.35" fill="#22a07c"/>
<circle cx="503.01" cy="201.08" r="1.35" fill="#22a07c"/>
<circle cx="497.91" cy="207.42" r="1.35" fill="#22a07c"/>
<circle cx="502.81" cy="215.72" r="1.35" fill="#22a07c"/>
<circle cx="497.61" cy="222.15" r="1.35" fill="#22a07c"/>
<polyline points="511.79,180.38 509.49,173.28 513.09,166.28 509.39,157.26 513.89,149.68" stroke="#222070" stroke-width="1.7" fill="none" stroke-linejoin="round" stroke-linecap="round"/>
<line x1="513.89" y1="149.68" x2="510.39" y2="140.7" stroke="#1f8f5f" stroke-width="1.7" stroke-linecap="round"/>
<polyline points="511.59,193.25 509.39,201.08 513.29,207.42 509.59,215.72 513.79,222.15" stroke="#222070" stroke-width="1.7" fill="none" stroke-linejoin="round" stroke-linecap="round"/>
<line x1="513.79" y1="222.15" x2="510.39" y2="231.8" stroke="#1f8f5f" stroke-width="1.7" stroke-linecap="round"/>
<circle cx="509.49" cy="173.28" r="1.35" fill="#22a07c"/>
<circle cx="513.09" cy="166.28" r="1.35" fill="#22a07c"/>
<circle cx="509.39" cy="157.26" r="1.35" fill="#22a07c"/>
<circle cx="513.89" cy="149.68" r="1.35" fill="#22a07c"/>
<circle cx="509.39" cy="201.08" r="1.35" fill="#22a07c"/>
<circle cx="513.29" cy="207.42" r="1.35" fill="#22a07c"/>
<circle cx="509.59" cy="215.72" r="1.35" fill="#22a07c"/>
<circle cx="513.79" cy="222.15" r="1.35" fill="#22a07c"/>
<polyline points="516.79,180.38 519.09,173.28 515.5,166.28 519.19,157.26 514.69,149.68" stroke="#222070" stroke-width="1.7" fill="none" stroke-linejoin="round" stroke-linecap="round"/>
<line x1="514.69" y1="149.68" x2="518.19" y2="140.7" stroke="#1f8f5f" stroke-width="1.7" stroke-linecap="round"/>
<polyline points="517,193.25 519.19,201.08 515.29,207.42 519,215.72 514.79,222.15" stroke="#222070" stroke-width="1.7" fill="none" stroke-linejoin="round" stroke-linecap="round"/>
<line x1="514.79" y1="222.15" x2="518.19" y2="231.8" stroke="#1f8f5f" stroke-width="1.7" stroke-linecap="round"/>
<circle cx="519.09" cy="173.28" r="1.35" fill="#22a07c"/>
<circle cx="515.5" cy="166.28" r="1.35" fill="#22a07c"/>
<circle cx="519.19" cy="157.26" r="1.35" fill="#22a07c"/>
<circle cx="514.69" cy="149.68" r="1.35" fill="#22a07c"/>
<circle cx="519.19" cy="201.08" r="1.35" fill="#22a07c"/>
<circle cx="515.29" cy="207.42" r="1.35" fill="#22a07c"/>
<circle cx="519" cy="215.72" r="1.35" fill="#22a07c"/>
<circle cx="514.79" cy="222.15" r="1.35" fill="#22a07c"/>
</g>
<g>
<line x1="533.2" y1="140.7" x2="533.2" y2="147.96" stroke="#1f8f5f" stroke-width="1.7"/>
<polyline points="533.2,147.96 532.7,153.71 534.4,160.43 533,170.02 534.8,176.74 534.2,183" stroke="#222070" stroke-width="1.7" fill="none" stroke-linejoin="round" stroke-linecap="round"/>
<line x1="534.2" y1="183" x2="534.2" y2="194" stroke="#a8401c" stroke-width="1.7"/>
<polyline points="534.2,194 533.6,200.05 534.8,207.51 534.4,214.97 535.8,221.5" stroke="#222070" stroke-width="1.7" fill="none" stroke-linejoin="round" stroke-linecap="round"/>
<line x1="535.8" y1="221.5" x2="536.2" y2="231.8" stroke="#d6c800" stroke-width="1.9"/>
<polyline points="542.41,180.38 538.41,173.28 543.21,166.28 538.01,157.26 543.21,149.68" stroke="#222070" stroke-width="1.7" fill="none" stroke-linejoin="round" stroke-linecap="round"/>
<line x1="543.21" y1="149.68" x2="539.21" y2="140.7" stroke="#1f8f5f" stroke-width="1.7" stroke-linecap="round"/>
<polyline points="542.21,193.25 538.01,201.08 543.11,207.42 538.21,215.72 543.41,222.15" stroke="#222070" stroke-width="1.7" fill="none" stroke-linejoin="round" stroke-linecap="round"/>
<line x1="543.41" y1="222.15" x2="539.81" y2="231.8" stroke="#1f8f5f" stroke-width="1.7" stroke-linecap="round"/>
<circle cx="538.41" cy="173.28" r="1.35" fill="#22a07c"/>
<circle cx="543.21" cy="166.28" r="1.35" fill="#22a07c"/>
<circle cx="538.01" cy="157.26" r="1.35" fill="#22a07c"/>
<circle cx="543.21" cy="149.68" r="1.35" fill="#22a07c"/>
<circle cx="538.01" cy="201.08" r="1.35" fill="#22a07c"/>
<circle cx="543.11" cy="207.42" r="1.35" fill="#22a07c"/>
<circle cx="538.21" cy="215.72" r="1.35" fill="#22a07c"/>
<circle cx="543.41" cy="222.15" r="1.35" fill="#22a07c"/>
<polyline points="548.41,180.38 552.41,173.28 547.61,166.28 552.81,157.26 547.61,149.68" stroke="#222070" stroke-width="1.7" fill="none" stroke-linejoin="round" stroke-linecap="round"/>
<line x1="547.61" y1="149.68" x2="551.61" y2="140.7" stroke="#1f8f5f" stroke-width="1.7" stroke-linecap="round"/>
<polyline points="548.61,193.25 552.81,201.08 547.71,207.42 552.61,215.72 547.41,222.15" stroke="#222070" stroke-width="1.7" fill="none" stroke-linejoin="round" stroke-linecap="round"/>
<line x1="547.41" y1="222.15" x2="551.01" y2="231.8" stroke="#1f8f5f" stroke-width="1.7" stroke-linecap="round"/>
<circle cx="552.41" cy="173.28" r="1.35" fill="#22a07c"/>
<circle cx="547.61" cy="166.28" r="1.35" fill="#22a07c"/>
<circle cx="552.81" cy="157.26" r="1.35" fill="#22a07c"/>
<circle cx="547.61" cy="149.68" r="1.35" fill="#22a07c"/>
<circle cx="552.81" cy="201.08" r="1.35" fill="#22a07c"/>
<circle cx="547.71" cy="207.42" r="1.35" fill="#22a07c"/>
<circle cx="552.61" cy="215.72" r="1.35" fill="#22a07c"/>
<circle cx="547.41" cy="222.15" r="1.35" fill="#22a07c"/>
<polyline points="561.6,180.38 559.3,173.28 562.89,166.28 559.2,157.26 563.7,149.68" stroke="#222070" stroke-width="1.7" fill="none" stroke-linejoin="round" stroke-linecap="round"/>
<line x1="563.7" y1="149.68" x2="560.2" y2="140.7" stroke="#1f8f5f" stroke-width="1.7" stroke-linecap="round"/>
<polyline points="561.39,193.25 559.2,201.08 563.1,207.42 559.39,215.72 563.6,222.15" stroke="#222070" stroke-width="1.7" fill="none" stroke-linejoin="round" stroke-linecap="round"/>
<line x1="563.6" y1="222.15" x2="560.2" y2="231.8" stroke="#1f8f5f" stroke-width="1.7" stroke-linecap="round"/>
<circle cx="559.3" cy="173.28" r="1.35" fill="#22a07c"/>
<circle cx="562.89" cy="166.28" r="1.35" fill="#22a07c"/>
<circle cx="559.2" cy="157.26" r="1.35" fill="#22a07c"/>
<circle cx="563.7" cy="149.68" r="1.35" fill="#22a07c"/>
<circle cx="559.2" cy="201.08" r="1.35" fill="#22a07c"/>
<circle cx="563.1" cy="207.42" r="1.35" fill="#22a07c"/>
<circle cx="559.39" cy="215.72" r="1.35" fill="#22a07c"/>
<circle cx="563.6" cy="222.15" r="1.35" fill="#22a07c"/>
<polyline points="566.6,180.38 568.89,173.28 565.3,166.28 569,157.26 564.5,149.68" stroke="#222070" stroke-width="1.7" fill="none" stroke-linejoin="round" stroke-linecap="round"/>
<line x1="564.5" y1="149.68" x2="568" y2="140.7" stroke="#1f8f5f" stroke-width="1.7" stroke-linecap="round"/>
<polyline points="566.8,193.25 569,201.08 565.1,207.42 568.8,215.72 564.6,222.15" stroke="#222070" stroke-width="1.7" fill="none" stroke-linejoin="round" stroke-linecap="round"/>
<line x1="564.6" y1="222.15" x2="568" y2="231.8" stroke="#1f8f5f" stroke-width="1.7" stroke-linecap="round"/>
<circle cx="568.89" cy="173.28" r="1.35" fill="#22a07c"/>
<circle cx="565.3" cy="166.28" r="1.35" fill="#22a07c"/>
<circle cx="569" cy="157.26" r="1.35" fill="#22a07c"/>
<circle cx="564.5" cy="149.68" r="1.35" fill="#22a07c"/>
<circle cx="569" cy="201.08" r="1.35" fill="#22a07c"/>
<circle cx="565.1" cy="207.42" r="1.35" fill="#22a07c"/>
<circle cx="568.8" cy="215.72" r="1.35" fill="#22a07c"/>
<circle cx="564.6" cy="222.15" r="1.35" fill="#22a07c"/>
</g>
<ellipse cx="452" cy="188" rx="8.6" ry="22" fill="url(#gCyan)" opacity="0.95" transform="rotate(4 452 188)"/>
<ellipse cx="550.6" cy="188" rx="8.6" ry="22" fill="url(#gCyan)" opacity="0.95" transform="rotate(4 550.6 188)"/>
<g>
<line x1="435" y1="187" x2="472.93" y2="187" stroke="#3a1466" stroke-width="1.7"/>
<polygon points="439.1,187 443.7,180.1 450.9,180.1 455.5,187 450.9,193.9 443.7,193.9" fill="#d80c0c" stroke="none" stroke-width="0"/>
<polygon points="460.79,187 463.49,180 468.49,180 471.19,187 468.49,194 463.49,194" fill="#d80c0c" stroke="none" stroke-width="0"/>
</g>
<g>
<line x1="483.4" y1="187" x2="521.32" y2="187" stroke="#3a1466" stroke-width="1.7"/>
<polygon points="487.5,187 492.1,180.1 499.3,180.1 503.9,187 499.3,193.9 492.1,193.9" fill="#d80c0c" stroke="none" stroke-width="0"/>
<polygon points="509.19,187 511.89,180 516.89,180 519.59,187 516.89,194 511.89,194" fill="#d80c0c" stroke="none" stroke-width="0"/>
</g>
<g>
<line x1="533.2" y1="187" x2="571.12" y2="187" stroke="#3a1466" stroke-width="1.7"/>
<polygon points="537.3,187 541.9,180.1 549.1,180.1 553.7,187 549.1,193.9 541.9,193.9" fill="#d80c0c" stroke="none" stroke-width="0"/>
<polygon points="558.99,187 561.69,180 566.69,180 569.39,187 566.69,194 561.69,194" fill="#d80c0c" stroke="none" stroke-width="0"/>
</g>
<path d="M458.6 109.4 C 454.1 112, 448.5 116, 448 121 S 448.1 128.5, 451 133 S 455.1 140.5, 453.7 146 S 450 158, 449.6 168" stroke="#8c6418" stroke-width="2.1" fill="none" stroke-linecap="round"/>
<path d="M507.4 109.4 C 502.9 112, 497.3 116, 496.8 121 S 496.9 128.5, 499.8 133 S 503.9 140.5, 502.5 146 S 498.8 158, 498.4 168" stroke="#8c6418" stroke-width="2.1" fill="none" stroke-linecap="round"/>
<path d="M556.8 109.4 C 552.3 112, 546.7 116, 546.2 121 S 546.3 128.5, 549.2 133 S 553.3 140.5, 551.9 146 S 548.2 158, 547.8 168" stroke="#8c6418" stroke-width="2.1" fill="none" stroke-linecap="round"/>
<polygon points="503.6,125.6 537.2,162.2 521.8,162.2 521.8,219.6 485.4,219.6 485.4,162.2 470,162.2" fill="url(#gArrow)" stroke="none" stroke-width="0"/>
<polygon points="441.79,65.1 444.69,62.2 447.58,65.1 444.69,68" fill="#ffffff" stroke="none" stroke-width="0"/>
<polygon points="457.96,65.1 460.86,62.2 463.75,65.1 460.86,68" fill="#ffffff" stroke="none" stroke-width="0"/>
<polygon points="474.13,65.1 477.03,62.2 479.93,65.1 477.03,68" fill="#ffffff" stroke="none" stroke-width="0"/>
<polygon points="490.3,65.1 493.2,62.2 496.1,65.1 493.2,68" fill="#ffffff" stroke="none" stroke-width="0"/>
<polygon points="506.47,65.1 509.37,62.2 512.26,65.1 509.37,68" fill="#ffffff" stroke="none" stroke-width="0"/>
<polygon points="522.64,65.1 525.54,62.2 528.44,65.1 525.54,68" fill="#ffffff" stroke="none" stroke-width="0"/>
<polygon points="538.81,65.1 541.71,62.2 544.61,65.1 541.71,68" fill="#ffffff" stroke="none" stroke-width="0"/>
<polygon points="554.98,65.1 557.88,62.2 560.77,65.1 557.88,68" fill="#ffffff" stroke="none" stroke-width="0"/>
<circle cx="436.6" cy="55.4" r="9.8" fill="url(#gBlack)"/>
<circle cx="452.77" cy="55.4" r="9.8" fill="url(#gBlack)"/>
<circle cx="468.94" cy="55.4" r="9.8" fill="url(#gBlack)"/>
<circle cx="485.11" cy="55.4" r="9.8" fill="url(#gBlack)"/>
<circle cx="501.28" cy="55.4" r="9.8" fill="url(#gBlack)"/>
<circle cx="517.45" cy="55.4" r="9.8" fill="url(#gBlack)"/>
<circle cx="533.62" cy="55.4" r="9.8" fill="url(#gBlack)"/>
<circle cx="549.79" cy="55.4" r="9.8" fill="url(#gBlack)"/>
<circle cx="565.96" cy="55.4" r="9.8" fill="url(#gBlack)"/>
<circle cx="430.13" cy="54.22" r="1.47" fill="#ffffff" opacity="0.9" filter="url(#blur1)"/>
<circle cx="443.85" cy="54.42" r="1.08" fill="#ffffff" opacity="0.49500000000000005" filter="url(#blur1)"/>
<circle cx="446.3" cy="54.22" r="1.47" fill="#ffffff" opacity="0.9" filter="url(#blur1)"/>
<circle cx="460.02" cy="54.42" r="1.08" fill="#ffffff" opacity="0.49500000000000005" filter="url(#blur1)"/>
<circle cx="462.47" cy="54.22" r="1.47" fill="#ffffff" opacity="0.9" filter="url(#blur1)"/>
<circle cx="476.19" cy="54.42" r="1.08" fill="#ffffff" opacity="0.49500000000000005" filter="url(#blur1)"/>
<circle cx="478.64" cy="54.22" r="1.47" fill="#ffffff" opacity="0.9" filter="url(#blur1)"/>
<circle cx="492.36" cy="54.42" r="1.08" fill="#ffffff" opacity="0.49500000000000005" filter="url(#blur1)"/>
<circle cx="494.81" cy="54.22" r="1.47" fill="#ffffff" opacity="0.9" filter="url(#blur1)"/>
<circle cx="508.53" cy="54.42" r="1.08" fill="#ffffff" opacity="0.49500000000000005" filter="url(#blur1)"/>
<circle cx="510.98" cy="54.22" r="1.47" fill="#ffffff" opacity="0.9" filter="url(#blur1)"/>
<circle cx="524.7" cy="54.42" r="1.08" fill="#ffffff" opacity="0.49500000000000005" filter="url(#blur1)"/>
<circle cx="527.15" cy="54.22" r="1.47" fill="#ffffff" opacity="0.9" filter="url(#blur1)"/>
<circle cx="540.87" cy="54.42" r="1.08" fill="#ffffff" opacity="0.49500000000000005" filter="url(#blur1)"/>
<circle cx="543.32" cy="54.22" r="1.47" fill="#ffffff" opacity="0.9" filter="url(#blur1)"/>
<circle cx="557.04" cy="54.42" r="1.08" fill="#ffffff" opacity="0.49500000000000005" filter="url(#blur1)"/>
<circle cx="559.49" cy="54.22" r="1.47" fill="#ffffff" opacity="0.9" filter="url(#blur1)"/>
<circle cx="573.21" cy="54.42" r="1.08" fill="#ffffff" opacity="0.49500000000000005" filter="url(#blur1)"/>
<circle cx="436.6" cy="74.8" r="9.9" fill="url(#gGrey)"/>
<circle cx="452.77" cy="74.8" r="9.9" fill="url(#gGrey)"/>
<circle cx="468.94" cy="74.8" r="9.9" fill="url(#gGrey)"/>
<circle cx="485.11" cy="74.8" r="9.9" fill="url(#gGrey)"/>
<circle cx="501.28" cy="74.8" r="9.9" fill="url(#gGrey)"/>
<circle cx="517.45" cy="74.8" r="9.9" fill="url(#gGrey)"/>
<circle cx="533.62" cy="74.8" r="9.9" fill="url(#gGrey)"/>
<circle cx="549.79" cy="74.8" r="9.9" fill="url(#gGrey)"/>
<circle cx="565.96" cy="74.8" r="9.9" fill="url(#gGrey)"/>
<circle cx="430.07" cy="73.61" r="1.49" fill="#ffffff" opacity="0.9" filter="url(#blur1)"/>
<circle cx="443.93" cy="73.81" r="1.09" fill="#ffffff" opacity="0.49500000000000005" filter="url(#blur1)"/>
<circle cx="446.24" cy="73.61" r="1.49" fill="#ffffff" opacity="0.9" filter="url(#blur1)"/>
<circle cx="460.1" cy="73.81" r="1.09" fill="#ffffff" opacity="0.49500000000000005" filter="url(#blur1)"/>
<circle cx="462.41" cy="73.61" r="1.49" fill="#ffffff" opacity="0.9" filter="url(#blur1)"/>
<circle cx="476.27" cy="73.81" r="1.09" fill="#ffffff" opacity="0.49500000000000005" filter="url(#blur1)"/>
<circle cx="478.58" cy="73.61" r="1.49" fill="#ffffff" opacity="0.9" filter="url(#blur1)"/>
<circle cx="492.44" cy="73.81" r="1.09" fill="#ffffff" opacity="0.49500000000000005" filter="url(#blur1)"/>
<circle cx="494.75" cy="73.61" r="1.49" fill="#ffffff" opacity="0.9" filter="url(#blur1)"/>
<circle cx="508.61" cy="73.81" r="1.09" fill="#ffffff" opacity="0.49500000000000005" filter="url(#blur1)"/>
<circle cx="510.92" cy="73.61" r="1.49" fill="#ffffff" opacity="0.9" filter="url(#blur1)"/>
<circle cx="524.78" cy="73.81" r="1.09" fill="#ffffff" opacity="0.49500000000000005" filter="url(#blur1)"/>
<circle cx="527.09" cy="73.61" r="1.49" fill="#ffffff" opacity="0.9" filter="url(#blur1)"/>
<circle cx="540.95" cy="73.81" r="1.09" fill="#ffffff" opacity="0.49500000000000005" filter="url(#blur1)"/>
<circle cx="543.26" cy="73.61" r="1.49" fill="#ffffff" opacity="0.9" filter="url(#blur1)"/>
<circle cx="557.12" cy="73.81" r="1.09" fill="#ffffff" opacity="0.49500000000000005" filter="url(#blur1)"/>
<circle cx="559.43" cy="73.61" r="1.49" fill="#ffffff" opacity="0.9" filter="url(#blur1)"/>
<circle cx="573.29" cy="73.81" r="1.09" fill="#ffffff" opacity="0.49500000000000005" filter="url(#blur1)"/>
<circle cx="436.6" cy="240.2" r="10.1" fill="url(#gGold)"/>
<circle cx="452.72" cy="240.2" r="10.1" fill="url(#gGold)"/>
<circle cx="468.84" cy="240.2" r="10.1" fill="url(#gGold)"/>
<circle cx="484.96" cy="240.2" r="10.1" fill="url(#gGold)"/>
<circle cx="501.08" cy="240.2" r="10.1" fill="url(#gGold)"/>
<circle cx="517.2" cy="240.2" r="10.1" fill="url(#gGold)"/>
<circle cx="533.32" cy="240.2" r="10.1" fill="url(#gGold)"/>
<circle cx="549.44" cy="240.2" r="10.1" fill="url(#gGold)"/>
<circle cx="565.56" cy="240.2" r="10.1" fill="url(#gGold)"/>
<circle cx="429.93" cy="238.99" r="1.51" fill="#ffff9a" opacity="0.9" filter="url(#blur1)"/>
<circle cx="444.07" cy="239.19" r="1.11" fill="#ffff9a" opacity="0.49500000000000005" filter="url(#blur1)"/>
<circle cx="446.05" cy="238.99" r="1.51" fill="#ffff9a" opacity="0.9" filter="url(#blur1)"/>
<circle cx="460.19" cy="239.19" r="1.11" fill="#ffff9a" opacity="0.49500000000000005" filter="url(#blur1)"/>
<circle cx="462.17" cy="238.99" r="1.51" fill="#ffff9a" opacity="0.9" filter="url(#blur1)"/>
<circle cx="476.31" cy="239.19" r="1.11" fill="#ffff9a" opacity="0.49500000000000005" filter="url(#blur1)"/>
<circle cx="478.29" cy="238.99" r="1.51" fill="#ffff9a" opacity="0.9" filter="url(#blur1)"/>
<circle cx="492.43" cy="239.19" r="1.11" fill="#ffff9a" opacity="0.49500000000000005" filter="url(#blur1)"/>
<circle cx="494.41" cy="238.99" r="1.51" fill="#ffff9a" opacity="0.9" filter="url(#blur1)"/>
<circle cx="508.55" cy="239.19" r="1.11" fill="#ffff9a" opacity="0.49500000000000005" filter="url(#blur1)"/>
<circle cx="510.53" cy="238.99" r="1.51" fill="#ffff9a" opacity="0.9" filter="url(#blur1)"/>
<circle cx="524.67" cy="239.19" r="1.11" fill="#ffff9a" opacity="0.49500000000000005" filter="url(#blur1)"/>
<circle cx="526.65" cy="238.99" r="1.51" fill="#ffff9a" opacity="0.9" filter="url(#blur1)"/>
<circle cx="540.79" cy="239.19" r="1.11" fill="#ffff9a" opacity="0.49500000000000005" filter="url(#blur1)"/>
<circle cx="542.77" cy="238.99" r="1.51" fill="#ffff9a" opacity="0.9" filter="url(#blur1)"/>
<circle cx="556.91" cy="239.19" r="1.11" fill="#ffff9a" opacity="0.49500000000000005" filter="url(#blur1)"/>
<circle cx="558.89" cy="238.99" r="1.51" fill="#ffff9a" opacity="0.9" filter="url(#blur1)"/>
<circle cx="573.03" cy="239.19" r="1.11" fill="#ffff9a" opacity="0.49500000000000005" filter="url(#blur1)"/>
<circle cx="452.7" cy="97.1" r="12.8" fill="url(#gPurp)"/>
<circle cx="501.6" cy="97.1" r="12.8" fill="url(#gPurp)"/>
<circle cx="551" cy="97.1" r="12.8" fill="url(#gPurp)"/>
<text x="495.2" y="172.4" font-size="25" font-weight="bold" fill="#000">e<tspan font-size="16" dy="-9">-</tspan></text>
<circle cx="393" cy="151" r="17" fill="#222222"/>
<text x="393" y="156.1" font-size="18.75" fill="#fff" font-weight="bold" text-anchor="middle">v</text>
</g>
<g id="chem">
<rect x="607.4" y="31.4" width="308" height="243.6" rx="4" fill="#8c8c8c" opacity="0.6" filter="url(#blur2)"/>
<rect x="605.2" y="28.9" width="307.8" height="243.6" rx="3" fill="#fff" stroke="#5c5c5c" stroke-width="1.5"/>
<circle cx="632.6" cy="74.9" r="16.9" fill="url(#gAda)"/>
<circle cx="632.6" cy="74.9" r="16.9" fill="url(#gAdaShade)"/>
<line x1="611.6" y1="65.3" x2="625.6" y2="67.9" stroke="#3a2a4a" stroke-width="0.95" stroke-linecap="round"/>
<line x1="611.6" y1="65.3" x2="622.6" y2="73.4" stroke="#3a2a4a" stroke-width="0.95" stroke-linecap="round"/>
<line x1="625.6" y1="67.9" x2="636.3" y2="60.2" stroke="#3a2a4a" stroke-width="0.95" stroke-linecap="round"/>
<line x1="622.6" y1="73.4" x2="632.2" y2="66.2" stroke="#3a2a4a" stroke-width="0.95" stroke-linecap="round"/>
<line x1="632.2" y1="66.2" x2="643.8" y2="66.3" stroke="#3a2a4a" stroke-width="0.95" stroke-linecap="round"/>
<line x1="636.3" y1="60.2" x2="645.8" y2="70.3" stroke="#3a2a4a" stroke-width="0.95" stroke-linecap="round"/>
<line x1="645.8" y1="70.3" x2="645.8" y2="81.1" stroke="#3a2a4a" stroke-width="0.95" stroke-linecap="round"/>
<line x1="645.8" y1="81.1" x2="637.4" y2="86.7" stroke="#3a2a4a" stroke-width="0.95" stroke-linecap="round"/>
<line x1="622.6" y1="73.4" x2="624.5" y2="85.2" stroke="#3a2a4a" stroke-width="0.95" stroke-linecap="round"/>
<line x1="624.5" y1="85.2" x2="637.4" y2="86.7" stroke="#3a2a4a" stroke-width="0.95" stroke-linecap="round"/>
<line x1="627.2" y1="71.9" x2="629.3" y2="79.3" stroke="#3a2a4a" stroke-width="0.95" stroke-linecap="round"/>
<line x1="629.3" y1="79.3" x2="637.4" y2="86.7" stroke="#3a2a4a" stroke-width="0.95" stroke-linecap="round"/>
<line x1="625.6" y1="67.9" x2="627.2" y2="71.9" stroke="#3a2a4a" stroke-width="0.95" stroke-linecap="round"/>
<line x1="637.4" y1="86.7" x2="641.6" y2="99.6" stroke="#4a4a4a" stroke-width="1" stroke-linecap="round"/>
<line x1="641.6" y1="99.6" x2="654.5" y2="103.1" stroke="#4a4a4a" stroke-width="1" stroke-linecap="round"/>
<line x1="654.5" y1="103.1" x2="657.2" y2="113.9" stroke="#4a4a4a" stroke-width="1" stroke-linecap="round"/>
<line x1="641.6" y1="99.6" x2="632.2" y2="107.8" stroke="#4a4a4a" stroke-width="1" stroke-linecap="round"/>
<line x1="638.96" y1="98.85" x2="630.69" y2="106.07" stroke="#4a4a4a" stroke-width="1" stroke-linecap="round"/>
<line x1="657.2" y1="113.9" x2="660.8" y2="128.9" stroke="#4a4a4a" stroke-width="1" stroke-linecap="round"/>
<line x1="660.8" y1="128.9" x2="672.6" y2="130.2" stroke="#4a4a4a" stroke-width="1" stroke-linecap="round"/>
<line x1="672.6" y1="130.2" x2="678.5" y2="141.3" stroke="#4a4a4a" stroke-width="1" stroke-linecap="round"/>
<line x1="678.5" y1="141.3" x2="672" y2="152.5" stroke="#4a4a4a" stroke-width="1" stroke-linecap="round"/>
<line x1="672" y1="152.5" x2="658.9" y2="150.5" stroke="#4a4a4a" stroke-width="1" stroke-linecap="round"/>
<line x1="658.9" y1="150.5" x2="653" y2="139.3" stroke="#4a4a4a" stroke-width="1" stroke-linecap="round"/>
<line x1="653" y1="139.3" x2="660.8" y2="128.9" stroke="#4a4a4a" stroke-width="1" stroke-linecap="round"/>
<line x1="671.25" y1="133.2" x2="675.26" y2="140.74" stroke="#4a4a4a" stroke-width="1" stroke-linecap="round"/>
<line x1="670.3" y1="149.61" x2="661.39" y2="148.25" stroke="#4a4a4a" stroke-width="1" stroke-linecap="round"/>
<line x1="656.33" y1="139.2" x2="661.63" y2="132.12" stroke="#4a4a4a" stroke-width="1" stroke-linecap="round"/>
<line x1="672" y1="152.5" x2="676.6" y2="163" stroke="#4a4a4a" stroke-width="1" stroke-linecap="round"/>
<rect x="627.9" y="103.39" width="8.6" height="8.82" fill="#fff"/>
<text x="632.2" y="111.58" font-size="10.5" fill="#3c3c3c" font-weight="normal" text-anchor="middle">O</text>
<rect x="652.9" y="109.49" width="8.6" height="8.82" fill="#fff"/>
<text x="657.2" y="117.68" font-size="10.5" fill="#3c3c3c" font-weight="normal" text-anchor="middle">O</text>
<rect x="672.3" y="158.59" width="8.6" height="8.82" fill="#fff"/>
<text x="676.6" y="166.78" font-size="10.5" fill="#3c3c3c" font-weight="normal" text-anchor="middle">O</text>
<line x1="676.6" y1="163" x2="669.8" y2="173" stroke="#4a4a4a" stroke-width="1" stroke-linecap="round"/>
<line x1="669.8" y1="173" x2="674" y2="184.8" stroke="#4a4a4a" stroke-width="1" stroke-linecap="round"/>
<line x1="674" y1="184.8" x2="668.1" y2="196.2" stroke="#4a4a4a" stroke-width="1" stroke-linecap="round"/>
<line x1="668.1" y1="196.2" x2="673.6" y2="208" stroke="#4a4a4a" stroke-width="1" stroke-linecap="round"/>
<line x1="673.6" y1="208" x2="665.6" y2="218" stroke="#4a4a4a" stroke-width="1" stroke-linecap="round"/>
<rect x="672.3" y="158.59" width="8.6" height="8.82" fill="#fff"/>
<text x="676.6" y="166.78" font-size="10.5" fill="#3c3c3c" font-weight="normal" text-anchor="middle">O</text>
<line x1="665.6" y1="218" x2="669.2" y2="229.7" stroke="#4a4a4a" stroke-width="1" stroke-linecap="round"/>
<line x1="669.2" y1="229.7" x2="662.8" y2="239.3" stroke="#4a4a4a" stroke-width="1" stroke-linecap="round"/>
<line x1="662.8" y1="239.3" x2="651.1" y2="239.3" stroke="#4a4a4a" stroke-width="1" stroke-linecap="round"/>
<line x1="651.1" y1="239.3" x2="645.8" y2="228.7" stroke="#4a4a4a" stroke-width="1" stroke-linecap="round"/>
<line x1="645.8" y1="228.7" x2="652.2" y2="218.6" stroke="#4a4a4a" stroke-width="1" stroke-linecap="round"/>
<line x1="652.2" y1="218.6" x2="665.6" y2="218" stroke="#4a4a4a" stroke-width="1" stroke-linecap="round"/>
<line x1="666.18" y1="229.9" x2="661.83" y2="236.43" stroke="#4a4a4a" stroke-width="1" stroke-linecap="round"/>
<line x1="652.4" y1="236.53" x2="648.79" y2="229.32" stroke="#4a4a4a" stroke-width="1" stroke-linecap="round"/>
<line x1="654.45" y1="220.9" x2="663.56" y2="220.49" stroke="#4a4a4a" stroke-width="1" stroke-linecap="round"/>
<rect x="661.8" y="214.19" width="8.2" height="8.82" fill="#fff"/>
<text x="665.9" y="222.38" font-size="10.5" fill="#3c3c3c" font-weight="normal" text-anchor="middle">N</text>
<text x="661.6" y="213.8" font-size="6.5" fill="#3c3c3c" font-weight="normal" text-anchor="middle">+</text>
<text x="674.6" y="221.2" font-size="10" fill="#3c3c3c">Br<tspan font-size="7" dy="-4">−</tspan></text>
<circle cx="700.4" cy="74.9" r="16.9" fill="url(#gAda)"/>
<circle cx="700.4" cy="74.9" r="16.9" fill="url(#gAdaShade)"/>
<line x1="679.4" y1="65.3" x2="693.4" y2="67.9" stroke="#3a2a4a" stroke-width="0.95" stroke-linecap="round"/>
<line x1="679.4" y1="65.3" x2="690.4" y2="73.4" stroke="#3a2a4a" stroke-width="0.95" stroke-linecap="round"/>
<line x1="693.4" y1="67.9" x2="704.1" y2="60.2" stroke="#3a2a4a" stroke-width="0.95" stroke-linecap="round"/>
<line x1="690.4" y1="73.4" x2="700" y2="66.2" stroke="#3a2a4a" stroke-width="0.95" stroke-linecap="round"/>
<line x1="700" y1="66.2" x2="711.6" y2="66.3" stroke="#3a2a4a" stroke-width="0.95" stroke-linecap="round"/>
<line x1="704.1" y1="60.2" x2="713.6" y2="70.3" stroke="#3a2a4a" stroke-width="0.95" stroke-linecap="round"/>
<line x1="713.6" y1="70.3" x2="713.6" y2="81.1" stroke="#3a2a4a" stroke-width="0.95" stroke-linecap="round"/>
<line x1="713.6" y1="81.1" x2="705.2" y2="86.7" stroke="#3a2a4a" stroke-width="0.95" stroke-linecap="round"/>
<line x1="690.4" y1="73.4" x2="692.3" y2="85.2" stroke="#3a2a4a" stroke-width="0.95" stroke-linecap="round"/>
<line x1="692.3" y1="85.2" x2="705.2" y2="86.7" stroke="#3a2a4a" stroke-width="0.95" stroke-linecap="round"/>
<line x1="695" y1="71.9" x2="697.1" y2="79.3" stroke="#3a2a4a" stroke-width="0.95" stroke-linecap="round"/>
<line x1="697.1" y1="79.3" x2="705.2" y2="86.7" stroke="#3a2a4a" stroke-width="0.95" stroke-linecap="round"/>
<line x1="693.4" y1="67.9" x2="695" y2="71.9" stroke="#3a2a4a" stroke-width="0.95" stroke-linecap="round"/>
<line x1="705.2" y1="86.7" x2="709.4" y2="99.6" stroke="#4a4a4a" stroke-width="1" stroke-linecap="round"/>
<line x1="709.4" y1="99.6" x2="722.3" y2="103.1" stroke="#4a4a4a" stroke-width="1" stroke-linecap="round"/>
<line x1="722.3" y1="103.1" x2="725" y2="113.9" stroke="#4a4a4a" stroke-width="1" stroke-linecap="round"/>
<line x1="709.4" y1="99.6" x2="700" y2="107.8" stroke="#4a4a4a" stroke-width="1" stroke-linecap="round"/>
<line x1="706.76" y1="98.85" x2="698.49" y2="106.07" stroke="#4a4a4a" stroke-width="1" stroke-linecap="round"/>
<line x1="725" y1="113.9" x2="728.6" y2="128.9" stroke="#4a4a4a" stroke-width="1" stroke-linecap="round"/>
<line x1="728.6" y1="128.9" x2="740.4" y2="130.2" stroke="#4a4a4a" stroke-width="1" stroke-linecap="round"/>
<line x1="740.4" y1="130.2" x2="746.3" y2="141.3" stroke="#4a4a4a" stroke-width="1" stroke-linecap="round"/>
<line x1="746.3" y1="141.3" x2="739.8" y2="152.5" stroke="#4a4a4a" stroke-width="1" stroke-linecap="round"/>
<line x1="739.8" y1="152.5" x2="726.7" y2="150.5" stroke="#4a4a4a" stroke-width="1" stroke-linecap="round"/>
<line x1="726.7" y1="150.5" x2="720.8" y2="139.3" stroke="#4a4a4a" stroke-width="1" stroke-linecap="round"/>
<line x1="720.8" y1="139.3" x2="728.6" y2="128.9" stroke="#4a4a4a" stroke-width="1" stroke-linecap="round"/>
<line x1="739.05" y1="133.2" x2="743.06" y2="140.74" stroke="#4a4a4a" stroke-width="1" stroke-linecap="round"/>
<line x1="738.1" y1="149.61" x2="729.19" y2="148.25" stroke="#4a4a4a" stroke-width="1" stroke-linecap="round"/>
<line x1="724.13" y1="139.2" x2="729.43" y2="132.12" stroke="#4a4a4a" stroke-width="1" stroke-linecap="round"/>
<line x1="739.8" y1="152.5" x2="744.4" y2="163" stroke="#4a4a4a" stroke-width="1" stroke-linecap="round"/>
<rect x="695.7" y="103.39" width="8.6" height="8.82" fill="#fff"/>
<text x="700" y="111.58" font-size="10.5" fill="#3c3c3c" font-weight="normal" text-anchor="middle">O</text>
<rect x="720.7" y="109.49" width="8.6" height="8.82" fill="#fff"/>
<text x="725" y="117.68" font-size="10.5" fill="#3c3c3c" font-weight="normal" text-anchor="middle">O</text>
<rect x="740.1" y="158.59" width="8.6" height="8.82" fill="#fff"/>
<text x="744.4" y="166.78" font-size="10.5" fill="#3c3c3c" font-weight="normal" text-anchor="middle">O</text>
<line x1="744.4" y1="163" x2="737.6" y2="173" stroke="#4a4a4a" stroke-width="1" stroke-linecap="round"/>
<line x1="737.6" y1="173" x2="741.8" y2="184.8" stroke="#4a4a4a" stroke-width="1" stroke-linecap="round"/>
<line x1="741.8" y1="184.8" x2="735.9" y2="196.2" stroke="#4a4a4a" stroke-width="1" stroke-linecap="round"/>
<line x1="735.9" y1="196.2" x2="741.4" y2="208" stroke="#4a4a4a" stroke-width="1" stroke-linecap="round"/>
<line x1="741.4" y1="208" x2="733.4" y2="218" stroke="#4a4a4a" stroke-width="1" stroke-linecap="round"/>
<rect x="740.1" y="158.59" width="8.6" height="8.82" fill="#fff"/>
<text x="744.4" y="166.78" font-size="10.5" fill="#3c3c3c" font-weight="normal" text-anchor="middle">O</text>
<line x1="733.4" y1="218" x2="721.9" y2="216.9" stroke="#4a4a4a" stroke-width="1" stroke-linecap="round"/>
<line x1="733.4" y1="218" x2="727.8" y2="229.2" stroke="#4a4a4a" stroke-width="1" stroke-linecap="round"/>
<line x1="733.4" y1="218" x2="739.4" y2="229.2" stroke="#4a4a4a" stroke-width="1" stroke-linecap="round"/>
<rect x="729.5" y="214.19" width="8.2" height="8.82" fill="#fff"/>
<text x="733.6" y="222.38" font-size="10.5" fill="#3c3c3c" font-weight="normal" text-anchor="middle">N</text>
<text x="731.2" y="213" font-size="6.5" fill="#3c3c3c" font-weight="normal" text-anchor="middle">+</text>
<text x="743.4" y="221.2" font-size="10" fill="#3c3c3c">Br<tspan font-size="7" dy="-4">−</tspan></text>
<circle cx="768.2" cy="74.9" r="16.9" fill="url(#gAda)"/>
<circle cx="768.2" cy="74.9" r="16.9" fill="url(#gAdaShade)"/>
<line x1="747.2" y1="65.3" x2="761.2" y2="67.9" stroke="#3a2a4a" stroke-width="0.95" stroke-linecap="round"/>
<line x1="747.2" y1="65.3" x2="758.2" y2="73.4" stroke="#3a2a4a" stroke-width="0.95" stroke-linecap="round"/>
<line x1="761.2" y1="67.9" x2="771.9" y2="60.2" stroke="#3a2a4a" stroke-width="0.95" stroke-linecap="round"/>
<line x1="758.2" y1="73.4" x2="767.8" y2="66.2" stroke="#3a2a4a" stroke-width="0.95" stroke-linecap="round"/>
<line x1="767.8" y1="66.2" x2="779.4" y2="66.3" stroke="#3a2a4a" stroke-width="0.95" stroke-linecap="round"/>
<line x1="771.9" y1="60.2" x2="781.4" y2="70.3" stroke="#3a2a4a" stroke-width="0.95" stroke-linecap="round"/>
<line x1="781.4" y1="70.3" x2="781.4" y2="81.1" stroke="#3a2a4a" stroke-width="0.95" stroke-linecap="round"/>
<line x1="781.4" y1="81.1" x2="773" y2="86.7" stroke="#3a2a4a" stroke-width="0.95" stroke-linecap="round"/>
<line x1="758.2" y1="73.4" x2="760.1" y2="85.2" stroke="#3a2a4a" stroke-width="0.95" stroke-linecap="round"/>
<line x1="760.1" y1="85.2" x2="773" y2="86.7" stroke="#3a2a4a" stroke-width="0.95" stroke-linecap="round"/>
<line x1="762.8" y1="71.9" x2="764.9" y2="79.3" stroke="#3a2a4a" stroke-width="0.95" stroke-linecap="round"/>
<line x1="764.9" y1="79.3" x2="773" y2="86.7" stroke="#3a2a4a" stroke-width="0.95" stroke-linecap="round"/>
<line x1="761.2" y1="67.9" x2="762.8" y2="71.9" stroke="#3a2a4a" stroke-width="0.95" stroke-linecap="round"/>
<line x1="773" y1="86.7" x2="777.2" y2="99.6" stroke="#4a4a4a" stroke-width="1" stroke-linecap="round"/>
<line x1="777.2" y1="99.6" x2="790.1" y2="103.1" stroke="#4a4a4a" stroke-width="1" stroke-linecap="round"/>
<line x1="790.1" y1="103.1" x2="792.8" y2="113.9" stroke="#4a4a4a" stroke-width="1" stroke-linecap="round"/>
<line x1="777.2" y1="99.6" x2="767.8" y2="107.8" stroke="#4a4a4a" stroke-width="1" stroke-linecap="round"/>
<line x1="774.56" y1="98.85" x2="766.29" y2="106.07" stroke="#4a4a4a" stroke-width="1" stroke-linecap="round"/>
<line x1="792.8" y1="113.9" x2="796.4" y2="128.9" stroke="#4a4a4a" stroke-width="1" stroke-linecap="round"/>
<line x1="796.4" y1="128.9" x2="808.2" y2="130.2" stroke="#4a4a4a" stroke-width="1" stroke-linecap="round"/>
<line x1="808.2" y1="130.2" x2="814.1" y2="141.3" stroke="#4a4a4a" stroke-width="1" stroke-linecap="round"/>
<line x1="814.1" y1="141.3" x2="807.6" y2="152.5" stroke="#4a4a4a" stroke-width="1" stroke-linecap="round"/>
<line x1="807.6" y1="152.5" x2="794.5" y2="150.5" stroke="#4a4a4a" stroke-width="1" stroke-linecap="round"/>
<line x1="794.5" y1="150.5" x2="788.6" y2="139.3" stroke="#4a4a4a" stroke-width="1" stroke-linecap="round"/>
<line x1="788.6" y1="139.3" x2="796.4" y2="128.9" stroke="#4a4a4a" stroke-width="1" stroke-linecap="round"/>
<line x1="806.85" y1="133.2" x2="810.86" y2="140.74" stroke="#4a4a4a" stroke-width="1" stroke-linecap="round"/>
<line x1="805.9" y1="149.61" x2="796.99" y2="148.25" stroke="#4a4a4a" stroke-width="1" stroke-linecap="round"/>
<line x1="791.93" y1="139.2" x2="797.23" y2="132.12" stroke="#4a4a4a" stroke-width="1" stroke-linecap="round"/>
<line x1="807.6" y1="152.5" x2="812.2" y2="163" stroke="#4a4a4a" stroke-width="1" stroke-linecap="round"/>
<rect x="763.5" y="103.39" width="8.6" height="8.82" fill="#fff"/>
<text x="767.8" y="111.58" font-size="10.5" fill="#3c3c3c" font-weight="normal" text-anchor="middle">O</text>
<rect x="788.5" y="109.49" width="8.6" height="8.82" fill="#fff"/>
<text x="792.8" y="117.68" font-size="10.5" fill="#3c3c3c" font-weight="normal" text-anchor="middle">O</text>
<rect x="807.9" y="158.59" width="8.6" height="8.82" fill="#fff"/>
<text x="812.2" y="166.78" font-size="10.5" fill="#3c3c3c" font-weight="normal" text-anchor="middle">O</text>
<line x1="812.2" y1="163" x2="805.4" y2="173" stroke="#4a4a4a" stroke-width="1" stroke-linecap="round"/>
<line x1="805.4" y1="173" x2="809.6" y2="184.8" stroke="#4a4a4a" stroke-width="1" stroke-linecap="round"/>
<line x1="809.6" y1="184.8" x2="803.7" y2="196.2" stroke="#4a4a4a" stroke-width="1" stroke-linecap="round"/>
<line x1="803.7" y1="196.2" x2="809.2" y2="208" stroke="#4a4a4a" stroke-width="1" stroke-linecap="round"/>
<line x1="809.2" y1="208" x2="801.2" y2="218" stroke="#4a4a4a" stroke-width="1" stroke-linecap="round"/>
<rect x="807.9" y="158.59" width="8.6" height="8.82" fill="#fff"/>
<text x="812.2" y="166.78" font-size="10.5" fill="#3c3c3c" font-weight="normal" text-anchor="middle">O</text>
<line x1="801.2" y1="218" x2="806.1" y2="229.3" stroke="#4a4a4a" stroke-width="1" stroke-linecap="round"/>
<line x1="806.1" y1="229.3" x2="795.4" y2="237.8" stroke="#4a4a4a" stroke-width="1" stroke-linecap="round"/>
<line x1="795.4" y1="237.8" x2="784.8" y2="229.3" stroke="#4a4a4a" stroke-width="1" stroke-linecap="round"/>
<line x1="784.8" y1="229.3" x2="788.4" y2="218" stroke="#4a4a4a" stroke-width="1" stroke-linecap="round"/>
<line x1="788.4" y1="218" x2="801.2" y2="218" stroke="#4a4a4a" stroke-width="1" stroke-linecap="round"/>
<line x1="800.16" y1="221.14" x2="803.1" y2="227.92" stroke="#4a4a4a" stroke-width="1" stroke-linecap="round"/>
<line x1="787.44" y1="228.27" x2="789.96" y2="220.36" stroke="#4a4a4a" stroke-width="1" stroke-linecap="round"/>
<line x1="795.4" y1="241.8" x2="795.4" y2="251" stroke="#4a4a4a" stroke-width="1" stroke-linecap="round"/>
<rect x="797.3" y="213.89" width="8.2" height="8.82" fill="#fff"/>
<text x="801.4" y="222.08" font-size="10.5" fill="#3c3c3c" font-weight="normal" text-anchor="middle">N</text>
<rect x="791.3" y="233.79" width="8.2" height="8.82" fill="#fff"/>
<text x="795.4" y="241.98" font-size="10.5" fill="#3c3c3c" font-weight="normal" text-anchor="middle">N</text>
<text x="798.2" y="212.8" font-size="6.5" fill="#3c3c3c" font-weight="normal" text-anchor="middle">+</text>
<text x="811" y="221" font-size="10" fill="#3c3c3c">Br<tspan font-size="7" dy="-4">−</tspan></text>
<circle cx="859.9" cy="48.6" r="16.9" fill="url(#gAda)"/>
<circle cx="859.9" cy="48.6" r="16.9" fill="url(#gAdaShade)"/>
<line x1="838.9" y1="39" x2="852.9" y2="41.6" stroke="#3a2a4a" stroke-width="0.95" stroke-linecap="round"/>
<line x1="838.9" y1="39" x2="849.9" y2="47.1" stroke="#3a2a4a" stroke-width="0.95" stroke-linecap="round"/>
<line x1="852.9" y1="41.6" x2="863.6" y2="33.9" stroke="#3a2a4a" stroke-width="0.95" stroke-linecap="round"/>
<line x1="849.9" y1="47.1" x2="859.5" y2="39.9" stroke="#3a2a4a" stroke-width="0.95" stroke-linecap="round"/>
<line x1="859.5" y1="39.9" x2="871.1" y2="40" stroke="#3a2a4a" stroke-width="0.95" stroke-linecap="round"/>
<line x1="863.6" y1="33.9" x2="873.1" y2="44" stroke="#3a2a4a" stroke-width="0.95" stroke-linecap="round"/>
<line x1="873.1" y1="44" x2="873.1" y2="54.8" stroke="#3a2a4a" stroke-width="0.95" stroke-linecap="round"/>
<line x1="873.1" y1="54.8" x2="862.1" y2="62.2" stroke="#3a2a4a" stroke-width="0.95" stroke-linecap="round"/>
<line x1="849.9" y1="47.1" x2="851.8" y2="58.9" stroke="#3a2a4a" stroke-width="0.95" stroke-linecap="round"/>
<line x1="851.8" y1="58.9" x2="862.1" y2="62.2" stroke="#3a2a4a" stroke-width="0.95" stroke-linecap="round"/>
<line x1="854.5" y1="45.6" x2="856.6" y2="53" stroke="#3a2a4a" stroke-width="0.95" stroke-linecap="round"/>
<line x1="856.6" y1="53" x2="862.1" y2="62.2" stroke="#3a2a4a" stroke-width="0.95" stroke-linecap="round"/>
<line x1="852.9" y1="41.6" x2="854.5" y2="45.6" stroke="#3a2a4a" stroke-width="0.95" stroke-linecap="round"/>
<line x1="862.1" y1="62.2" x2="864.5" y2="74.8" stroke="#4a4a4a" stroke-width="1" stroke-linecap="round"/>
<line x1="864.5" y1="74.8" x2="876.9" y2="78.5" stroke="#4a4a4a" stroke-width="1" stroke-linecap="round"/>
<line x1="876.9" y1="78.5" x2="879.1" y2="89.8" stroke="#4a4a4a" stroke-width="1" stroke-linecap="round"/>
<line x1="864.5" y1="74.8" x2="854.7" y2="82" stroke="#4a4a4a" stroke-width="1" stroke-linecap="round"/>
<line x1="861.96" y1="73.81" x2="853.34" y2="80.15" stroke="#4a4a4a" stroke-width="1" stroke-linecap="round"/>
<line x1="879.1" y1="89.8" x2="881.3" y2="105.7" stroke="#4a4a4a" stroke-width="1" stroke-linecap="round"/>
<line x1="881.3" y1="105.7" x2="893.8" y2="107" stroke="#4a4a4a" stroke-width="1" stroke-linecap="round"/>
<line x1="893.8" y1="107" x2="898.4" y2="118.2" stroke="#4a4a4a" stroke-width="1" stroke-linecap="round"/>
<line x1="898.4" y1="118.2" x2="891.1" y2="128" stroke="#4a4a4a" stroke-width="1" stroke-linecap="round"/>
<line x1="891.1" y1="128" x2="878" y2="126.1" stroke="#4a4a4a" stroke-width="1" stroke-linecap="round"/>
<line x1="878" y1="126.1" x2="873.4" y2="114.9" stroke="#4a4a4a" stroke-width="1" stroke-linecap="round"/>
<line x1="873.4" y1="114.9" x2="881.3" y2="105.7" stroke="#4a4a4a" stroke-width="1" stroke-linecap="round"/>
<line x1="892.13" y1="109.78" x2="895.26" y2="117.4" stroke="#4a4a4a" stroke-width="1" stroke-linecap="round"/>
<line x1="889.38" y1="125.12" x2="880.47" y2="123.83" stroke="#4a4a4a" stroke-width="1" stroke-linecap="round"/>
<line x1="876.64" y1="115.12" x2="882.01" y2="108.87" stroke="#4a4a4a" stroke-width="1" stroke-linecap="round"/>
<line x1="891.1" y1="128" x2="894.4" y2="140.5" stroke="#4a4a4a" stroke-width="1" stroke-linecap="round"/>
<rect x="850.4" y="77.59" width="8.6" height="8.82" fill="#fff"/>
<text x="854.7" y="85.78" font-size="10.5" fill="#3c3c3c" font-weight="normal" text-anchor="middle">O</text>
<rect x="874.8" y="85.39" width="8.6" height="8.82" fill="#fff"/>
<text x="879.1" y="93.58" font-size="10.5" fill="#3c3c3c" font-weight="normal" text-anchor="middle">O</text>
<rect x="890.1" y="136.09" width="8.6" height="8.82" fill="#fff"/>
<text x="894.4" y="144.28" font-size="10.5" fill="#3c3c3c" font-weight="normal" text-anchor="middle">O</text>
<line x1="894.4" y1="140.5" x2="887.9" y2="149.9" stroke="#4a4a4a" stroke-width="1" stroke-linecap="round"/>
<line x1="887.9" y1="149.9" x2="890.9" y2="162.6" stroke="#4a4a4a" stroke-width="1" stroke-linecap="round"/>
<line x1="890.9" y1="162.6" x2="883.6" y2="174.4" stroke="#4a4a4a" stroke-width="1" stroke-linecap="round"/>
<line x1="883.6" y1="174.4" x2="888.5" y2="185.4" stroke="#4a4a4a" stroke-width="1" stroke-linecap="round"/>
<line x1="888.5" y1="185.4" x2="880" y2="194.4" stroke="#4a4a4a" stroke-width="1" stroke-linecap="round"/>
<rect x="890.1" y="136.09" width="8.6" height="8.82" fill="#fff"/>
<text x="894.4" y="144.28" font-size="10.5" fill="#3c3c3c" font-weight="normal" text-anchor="middle">O</text>
<line x1="880" y1="194.4" x2="884.6" y2="205.1" stroke="#4a4a4a" stroke-width="1" stroke-linecap="round"/>
<line x1="884.6" y1="205.1" x2="877.1" y2="215" stroke="#4a4a4a" stroke-width="1" stroke-linecap="round"/>
<line x1="877.1" y1="215" x2="863.5" y2="215" stroke="#4a4a4a" stroke-width="1" stroke-linecap="round"/>
<line x1="863.5" y1="215" x2="859.4" y2="204.1" stroke="#4a4a4a" stroke-width="1" stroke-linecap="round"/>
<line x1="859.4" y1="204.1" x2="866.3" y2="193.7" stroke="#4a4a4a" stroke-width="1" stroke-linecap="round"/>
<line x1="866.3" y1="193.7" x2="880" y2="194.4" stroke="#4a4a4a" stroke-width="1" stroke-linecap="round"/>
<line x1="881.49" y1="205.23" x2="876.39" y2="211.97" stroke="#4a4a4a" stroke-width="1" stroke-linecap="round"/>
<line x1="865.09" y1="212.41" x2="862.3" y2="205" stroke="#4a4a4a" stroke-width="1" stroke-linecap="round"/>
<line x1="868.37" y1="196.21" x2="877.69" y2="196.68" stroke="#4a4a4a" stroke-width="1" stroke-linecap="round"/>
<line x1="863.5" y1="215" x2="856.4" y2="224.8" stroke="#4a4a4a" stroke-width="1" stroke-linecap="round"/>
<line x1="856.4" y1="224.8" x2="860.9" y2="235.6" stroke="#4a4a4a" stroke-width="1" stroke-linecap="round"/>
<line x1="860.9" y1="235.6" x2="853.5" y2="246.3" stroke="#4a4a4a" stroke-width="1" stroke-linecap="round"/>
<line x1="853.5" y1="246.3" x2="841.3" y2="245.5" stroke="#4a4a4a" stroke-width="1" stroke-linecap="round"/>
<line x1="841.3" y1="245.5" x2="836.7" y2="234.6" stroke="#4a4a4a" stroke-width="1" stroke-linecap="round"/>
<line x1="836.7" y1="234.6" x2="843.6" y2="224.8" stroke="#4a4a4a" stroke-width="1" stroke-linecap="round"/>
<line x1="843.6" y1="224.8" x2="856.4" y2="224.8" stroke="#4a4a4a" stroke-width="1" stroke-linecap="round"/>
<line x1="857.74" y1="235.95" x2="852.71" y2="243.22" stroke="#4a4a4a" stroke-width="1" stroke-linecap="round"/>
<line x1="842.78" y1="242.82" x2="839.65" y2="235.41" stroke="#4a4a4a" stroke-width="1" stroke-linecap="round"/>
<line x1="845.65" y1="227.2" x2="854.35" y2="227.2" stroke="#4a4a4a" stroke-width="1" stroke-linecap="round"/>
<line x1="838.9" y1="249.2" x2="833.8" y2="256.4" stroke="#4a4a4a" stroke-width="1" stroke-linecap="round"/>
<rect x="876.1" y="190.39" width="8.2" height="8.82" fill="#fff"/>
<text x="880.2" y="198.58" font-size="10.5" fill="#3c3c3c" font-weight="normal" text-anchor="middle">N</text>
<rect x="837.3" y="241.19" width="8.2" height="8.82" fill="#fff"/>
<text x="841.4" y="249.38" font-size="10.5" fill="#3c3c3c" font-weight="normal" text-anchor="middle">N</text>
<text x="886.4" y="198" font-size="6.5" fill="#3c3c3c" font-weight="normal" text-anchor="middle">+</text>
<text x="843.6" y="255" font-size="6.5" fill="#3c3c3c" font-weight="normal" text-anchor="middle">+</text>
<text x="869.6" y="188.2" font-size="10" fill="#3c3c3c">Br<tspan font-size="7" dy="-5">−</tspan></text>
<text x="830.4" y="248.4" font-size="10" fill="#3c3c3c">I<tspan font-size="7" dy="-4.5">−</tspan></text>
<text x="852.4" y="267" font-size="12.9" fill="#111" font-weight="bold" text-anchor="start" textLength="46.4" lengthAdjust="spacingAndGlyphs">MV-Ada</text>
<text x="628.4" y="264.9" font-size="12.8" fill="#111" font-weight="bold" text-anchor="start" textLength="58.2" lengthAdjust="spacingAndGlyphs">PyPh-Ada</text>
<text x="709.3" y="264.5" font-size="12.8" fill="#111" font-weight="bold" text-anchor="start" textLength="49.2" lengthAdjust="spacingAndGlyphs">TEA-Ada</text>
<text x="779.6" y="264.9" font-size="12.8" fill="#111" font-weight="bold" text-anchor="start" textLength="46.4" lengthAdjust="spacingAndGlyphs">Miz-Ada</text>
</g>
<g id="wm" filter="url(#soft)">
<rect x="789.7" y="581.8" width="96.5" height="1.7" fill="#dedede"/>
<polygon points="817.2,576 856,576 859.8,582.2 813.8,582.2" fill="#e2e2e2" stroke="none" stroke-width="0"/>
<rect x="812" y="563.8" width="50" height="12.4" fill="#efefef"/>
<rect x="822.8" y="546.8" width="32.2" height="4.2" fill="#d2d2d2"/>
<rect x="826" y="547.6" width="3.6" height="2.2" fill="#f4f4f4"/>
<rect x="831.4" y="547.6" width="3.6" height="2.2" fill="#f4f4f4"/>
<rect x="836.8" y="547.6" width="3.6" height="2.2" fill="#f4f4f4"/>
<rect x="842.2" y="547.6" width="3.6" height="2.2" fill="#f4f4f4"/>
<rect x="847.6" y="547.6" width="3.6" height="2.2" fill="#f4f4f4"/>
<rect x="817.6" y="551" width="39" height="8.6" fill="#e6e6e6"/>
<rect x="819.4" y="552" width="1.1" height="7" fill="#d8d8d8"/>
<rect x="822.55" y="552" width="1.1" height="7" fill="#d8d8d8"/>
<rect x="825.7" y="552" width="1.1" height="7" fill="#d8d8d8"/>
<rect x="828.85" y="552" width="1.1" height="7" fill="#d8d8d8"/>
<rect x="832" y="552" width="1.1" height="7" fill="#d8d8d8"/>
<rect x="835.15" y="552" width="1.1" height="7" fill="#d8d8d8"/>
<rect x="838.3" y="552" width="1.1" height="7" fill="#d8d8d8"/>
<rect x="841.45" y="552" width="1.1" height="7" fill="#d8d8d8"/>
<rect x="844.6" y="552" width="1.1" height="7" fill="#d8d8d8"/>
<rect x="847.75" y="552" width="1.1" height="7" fill="#d8d8d8"/>
<rect x="850.9" y="552" width="1.1" height="7" fill="#d8d8d8"/>
<rect x="854.05" y="552" width="1.1" height="7" fill="#d8d8d8"/>
<polygon points="816.2,559.4 857.8,559.4 860.6,563.9 813,563.9" fill="#e4e4e4" stroke="none" stroke-width="0"/>
<path d="M815.2 575.8 V569 Q818.4 563.6 821.8 569 V575.8 Z" fill="#d6d6d6"/>
<path d="M851.4 575.8 V569 Q854.6 563.6 857.9 569 V575.8 Z" fill="#d6d6d6"/>
<path d="M826.4 575.8 V568.6 Q836.8 561.6 847.2 568.6 V575.8 Z" fill="#d6d6d6"/>
<rect x="833" y="569" width="7.8" height="6.8" fill="#fdfdfd"/>
<rect x="823.4" y="564" width="1.2" height="12" fill="#dcdcdc"/>
<rect x="849" y="564" width="1.2" height="12" fill="#dcdcdc"/>
<rect x="795" y="563.9" width="17" height="0.9" fill="#e4e4e4"/>
<rect x="862" y="563.9" width="18" height="0.9" fill="#e4e4e4"/>
<rect x="797" y="566.6" width="2.4" height="1.4" fill="#dcdcdc"/>
<rect x="865.6" y="566.6" width="2.4" height="1.4" fill="#dcdcdc"/>
<rect x="801.4" y="566.6" width="2.4" height="1.4" fill="#dcdcdc"/>
<rect x="870" y="566.6" width="2.4" height="1.4" fill="#dcdcdc"/>
<rect x="805.8" y="566.6" width="2.4" height="1.4" fill="#dcdcdc"/>
<rect x="874.4" y="566.6" width="2.4" height="1.4" fill="#dcdcdc"/>
</g>
<g id="chart-b">
<line x1="84.7" y1="319.6" x2="367.1" y2="319.6" stroke="#2a2a2a" stroke-width="1.05"/>
<line x1="84.7" y1="524.9" x2="367.1" y2="524.9" stroke="#2a2a2a" stroke-width="1.05"/>
<line x1="84.7" y1="319.1" x2="84.7" y2="525.4" stroke="#d03a3a" stroke-width="1.15"/>
<line x1="367.1" y1="319.1" x2="367.1" y2="525.4" stroke="#4a4aa0" stroke-width="1.3"/>
<line x1="113.1" y1="319.6" x2="113.1" y2="323.9" stroke="#1c1c1c" stroke-width="1.1"/>
<line x1="113.1" y1="524.9" x2="113.1" y2="530" stroke="#1c1c1c" stroke-width="1.1"/>
<line x1="141.29" y1="319.6" x2="141.29" y2="322.6" stroke="#1c1c1c" stroke-width="1.1"/>
<line x1="141.29" y1="524.9" x2="141.29" y2="527.6" stroke="#1c1c1c" stroke-width="1.1"/>
<line x1="169.47" y1="319.6" x2="169.47" y2="323.9" stroke="#1c1c1c" stroke-width="1.1"/>
<line x1="169.47" y1="524.9" x2="169.47" y2="530" stroke="#1c1c1c" stroke-width="1.1"/>
<line x1="197.66" y1="319.6" x2="197.66" y2="322.6" stroke="#1c1c1c" stroke-width="1.1"/>
<line x1="197.66" y1="524.9" x2="197.66" y2="527.6" stroke="#1c1c1c" stroke-width="1.1"/>
<line x1="225.85" y1="319.6" x2="225.85" y2="323.9" stroke="#1c1c1c" stroke-width="1.1"/>
<line x1="225.85" y1="524.9" x2="225.85" y2="530" stroke="#1c1c1c" stroke-width="1.1"/>
<line x1="254.04" y1="319.6" x2="254.04" y2="322.6" stroke="#1c1c1c" stroke-width="1.1"/>
<line x1="254.04" y1="524.9" x2="254.04" y2="527.6" stroke="#1c1c1c" stroke-width="1.1"/>
<line x1="282.23" y1="319.6" x2="282.23" y2="323.9" stroke="#1c1c1c" stroke-width="1.1"/>
<line x1="282.23" y1="524.9" x2="282.23" y2="530" stroke="#1c1c1c" stroke-width="1.1"/>
<line x1="310.41" y1="319.6" x2="310.41" y2="322.6" stroke="#1c1c1c" stroke-width="1.1"/>
<line x1="310.41" y1="524.9" x2="310.41" y2="527.6" stroke="#1c1c1c" stroke-width="1.1"/>
<line x1="338.6" y1="319.6" x2="338.6" y2="323.9" stroke="#1c1c1c" stroke-width="1.1"/>
<line x1="338.6" y1="524.9" x2="338.6" y2="530" stroke="#1c1c1c" stroke-width="1.1"/>
<line x1="80.5" y1="511.3" x2="84.7" y2="511.3" stroke="#d03a3a" stroke-width="1.1"/>
<line x1="82.5" y1="481.65" x2="84.7" y2="481.65" stroke="#d03a3a" stroke-width="1.1"/>
<line x1="80.5" y1="452" x2="84.7" y2="452" stroke="#d03a3a" stroke-width="1.1"/>
<line x1="82.5" y1="422.35" x2="84.7" y2="422.35" stroke="#d03a3a" stroke-width="1.1"/>
<line x1="80.5" y1="392.7" x2="84.7" y2="392.7" stroke="#d03a3a" stroke-width="1.1"/>
<line x1="82.5" y1="363.05" x2="84.7" y2="363.05" stroke="#d03a3a" stroke-width="1.1"/>
<line x1="80.5" y1="333.4" x2="84.7" y2="333.4" stroke="#d03a3a" stroke-width="1.1"/>
<text x="77.2" y="516.7" font-size="18" fill="#e2161e" font-weight="normal" text-anchor="end" stroke="#e2161e" stroke-width="0.25">0</text>
<text x="77.2" y="457.4" font-size="18" fill="#e2161e" font-weight="normal" text-anchor="end" stroke="#e2161e" stroke-width="0.25">2</text>
<text x="77.2" y="398.1" font-size="18" fill="#e2161e" font-weight="normal" text-anchor="end" stroke="#e2161e" stroke-width="0.25">4</text>
<text x="77.2" y="338.8" font-size="18" fill="#e2161e" font-weight="normal" text-anchor="end" stroke="#e2161e" stroke-width="0.25">6</text>
<line x1="367.1" y1="335.07" x2="369.3" y2="335.07" stroke="#3a3a9a" stroke-width="1.1"/>
<line x1="367.1" y1="362.2" x2="371.3" y2="362.2" stroke="#3a3a9a" stroke-width="1.1"/>
<line x1="367.1" y1="389.32" x2="369.3" y2="389.32" stroke="#3a3a9a" stroke-width="1.1"/>
<line x1="367.1" y1="416.45" x2="371.3" y2="416.45" stroke="#3a3a9a" stroke-width="1.1"/>
<line x1="367.1" y1="443.57" x2="369.3" y2="443.57" stroke="#3a3a9a" stroke-width="1.1"/>
<line x1="367.1" y1="470.7" x2="371.3" y2="470.7" stroke="#3a3a9a" stroke-width="1.1"/>
<line x1="367.1" y1="497.82" x2="369.3" y2="497.82" stroke="#3a3a9a" stroke-width="1.1"/>
<line x1="367.1" y1="524.95" x2="371.3" y2="524.95" stroke="#3a3a9a" stroke-width="1.1"/>
<text x="373.6" y="366.8" font-size="18" fill="#0c0c80" font-weight="normal" text-anchor="start" textLength="30.6" lengthAdjust="spacingAndGlyphs" stroke="#0c0c80" stroke-width="0.25">-1.0</text>
<text x="373.6" y="421.05" font-size="18" fill="#0c0c80" font-weight="normal" text-anchor="start" textLength="30.6" lengthAdjust="spacingAndGlyphs" stroke="#0c0c80" stroke-width="0.25">-1.5</text>
<text x="373.6" y="475.3" font-size="18" fill="#0c0c80" font-weight="normal" text-anchor="start" textLength="30.6" lengthAdjust="spacingAndGlyphs" stroke="#0c0c80" stroke-width="0.25">-2.0</text>
<text x="373.6" y="529.55" font-size="18" fill="#0c0c80" font-weight="normal" text-anchor="start" textLength="30.6" lengthAdjust="spacingAndGlyphs" stroke="#0c0c80" stroke-width="0.25">-2.5</text>
<g transform="translate(52.0 443.0) rotate(-90)">
<text x="0" y="0" font-size="18" fill="#e2161e" font-weight="normal" text-anchor="start" textLength="42" lengthAdjust="spacingAndGlyphs" stroke="#e2161e" stroke-width="0.25">LogK</text>
</g>
<g transform="translate(435.6 486.6) rotate(-90)">
<text x="0" y="0" font-size="18" fill="#0c0c80" font-weight="normal" text-anchor="start" textLength="139.6" lengthAdjust="spacingAndGlyphs" stroke="#0c0c80" stroke-width="0.25">Log|J| (at +0.5 V)</text>
</g>
<polyline points="113.1,511.9 169.5,370 225.8,354.6 282.2,335.1 338.6,332.9" stroke="#e8141c" stroke-width="1.5" fill="none" stroke-dasharray="7 4.6"/>
<polyline points="113.1,509.3 169.5,420.4 225.8,377.8 282.2,366.7 338.6,336.5" stroke="#0c0c84" stroke-width="1.5" fill="none" stroke-dasharray="7 4.6"/>
<polygon points="113.1,506.5 118.52,510.44 116.45,516.81 109.75,516.81 107.68,510.44" fill="#f01018" stroke="none" stroke-width="0"/>
<polygon points="169.5,364.6 174.92,368.54 172.85,374.91 166.15,374.91 164.08,368.54" fill="#f01018" stroke="none" stroke-width="0"/>
<polygon points="225.8,349.2 231.22,353.14 229.15,359.51 222.45,359.51 220.38,353.14" fill="#f01018" stroke="none" stroke-width="0"/>
<polygon points="282.2,329.7 287.62,333.64 285.55,340.01 278.85,340.01 276.78,333.64" fill="#f01018" stroke="none" stroke-width="0"/>
<polygon points="338.6,327.5 344.02,331.44 341.95,337.81 335.25,337.81 333.18,331.44" fill="#f01018" stroke="none" stroke-width="0"/>
<circle cx="113.1" cy="509.3" r="4.8" fill="#0a0a88"/>
<circle cx="169.5" cy="420.4" r="4.8" fill="#0a0a88"/>
<circle cx="225.8" cy="377.8" r="4.8" fill="#0a0a88"/>
<circle cx="282.2" cy="366.7" r="4.8" fill="#0a0a88"/>
<circle cx="338.6" cy="336.5" r="4.8" fill="#0a0a88"/>
<g transform="translate(124.3 549.6) rotate(-24.6)">
<text x="0" y="0" font-size="15.3" fill="#111" font-weight="normal" text-anchor="end" stroke="#111" stroke-width="0.25">P5SA</text>
</g>
<g transform="translate(180.7 549.6) rotate(-24.6)">
<text x="0" y="0" font-size="15.3" fill="#111" font-weight="normal" text-anchor="end" stroke="#111" stroke-width="0.25">MV-Ada⊂P5SA</text>
</g>
<g transform="translate(237 549.6) rotate(-24.6)">
<text x="0" y="0" font-size="15.3" fill="#111" font-weight="normal" text-anchor="end" stroke="#111" stroke-width="0.25">TEA-Ada⊂P5SA</text>
</g>
<g transform="translate(293.4 549.6) rotate(-24.6)">
<text x="0" y="0" font-size="15.3" fill="#111" font-weight="normal" text-anchor="end" stroke="#111" stroke-width="0.25">PyPh-Ada⊂P5SA</text>
</g>
<g transform="translate(349.8 549.6) rotate(-24.6)">
<text x="0" y="0" font-size="15.3" fill="#111" font-weight="normal" text-anchor="end" stroke="#111" stroke-width="0.25">Miz-Ada⊂P5SA</text>
</g>
<text x="29.6" y="305.7" font-size="19.3" fill="#000" font-weight="bold" text-anchor="start">(b)</text>
</g>
<g id="chart-c">
<line x1="558.8" y1="320.4" x2="841.1" y2="320.4" stroke="#1c1c1c" stroke-width="1.5"/>
<line x1="558.8" y1="526.5" x2="841.1" y2="526.5" stroke="#1c1c1c" stroke-width="1.5"/>
<line x1="558.8" y1="319.7" x2="558.8" y2="527.2" stroke="#1d4a22" stroke-width="1.8"/>
<line x1="841.1" y1="319.8" x2="841.1" y2="527.1" stroke="#f070ac" stroke-width="1.3"/>
<line x1="588" y1="320.4" x2="588" y2="324.7" stroke="#1c1c1c" stroke-width="1.2"/>
<line x1="588" y1="526.5" x2="588" y2="531.6" stroke="#1c1c1c" stroke-width="1.2"/>
<line x1="616.05" y1="320.4" x2="616.05" y2="323.4" stroke="#1c1c1c" stroke-width="1.2"/>
<line x1="616.05" y1="526.5" x2="616.05" y2="529.2" stroke="#1c1c1c" stroke-width="1.2"/>
<line x1="644.1" y1="320.4" x2="644.1" y2="324.7" stroke="#1c1c1c" stroke-width="1.2"/>
<line x1="644.1" y1="526.5" x2="644.1" y2="531.6" stroke="#1c1c1c" stroke-width="1.2"/>
<line x1="672.15" y1="320.4" x2="672.15" y2="323.4" stroke="#1c1c1c" stroke-width="1.2"/>
<line x1="672.15" y1="526.5" x2="672.15" y2="529.2" stroke="#1c1c1c" stroke-width="1.2"/>
<line x1="700.2" y1="320.4" x2="700.2" y2="324.7" stroke="#1c1c1c" stroke-width="1.2"/>
<line x1="700.2" y1="526.5" x2="700.2" y2="531.6" stroke="#1c1c1c" stroke-width="1.2"/>
<line x1="728.25" y1="320.4" x2="728.25" y2="323.4" stroke="#1c1c1c" stroke-width="1.2"/>
<line x1="728.25" y1="526.5" x2="728.25" y2="529.2" stroke="#1c1c1c" stroke-width="1.2"/>
<line x1="756.3" y1="320.4" x2="756.3" y2="324.7" stroke="#1c1c1c" stroke-width="1.2"/>
<line x1="756.3" y1="526.5" x2="756.3" y2="531.6" stroke="#1c1c1c" stroke-width="1.2"/>
<line x1="784.35" y1="320.4" x2="784.35" y2="323.4" stroke="#1c1c1c" stroke-width="1.2"/>
<line x1="784.35" y1="526.5" x2="784.35" y2="529.2" stroke="#1c1c1c" stroke-width="1.2"/>
<line x1="812.4" y1="320.4" x2="812.4" y2="324.7" stroke="#1c1c1c" stroke-width="1.2"/>
<line x1="812.4" y1="526.5" x2="812.4" y2="531.6" stroke="#1c1c1c" stroke-width="1.2"/>
<line x1="554.6" y1="526.5" x2="558.8" y2="526.5" stroke="#1d4a22" stroke-width="1.2"/>
<line x1="556.6" y1="485.12" x2="558.8" y2="485.12" stroke="#1d4a22" stroke-width="1.2"/>
<line x1="554.6" y1="443.74" x2="558.8" y2="443.74" stroke="#1d4a22" stroke-width="1.2"/>
<line x1="556.6" y1="402.36" x2="558.8" y2="402.36" stroke="#1d4a22" stroke-width="1.2"/>
<line x1="554.6" y1="360.98" x2="558.8" y2="360.98" stroke="#1d4a22" stroke-width="1.2"/>
<text x="551.6" y="532.5" font-size="18" fill="#0e3a14" font-weight="normal" text-anchor="end" textLength="24.2" lengthAdjust="spacingAndGlyphs" stroke="#0e3a14" stroke-width="0.25">1.2</text>
<text x="551.6" y="449.74" font-size="18" fill="#0e3a14" font-weight="normal" text-anchor="end" textLength="24.2" lengthAdjust="spacingAndGlyphs" stroke="#0e3a14" stroke-width="0.25">1.4</text>
<text x="551.6" y="366.98" font-size="18" fill="#0e3a14" font-weight="normal" text-anchor="end" textLength="24.2" lengthAdjust="spacingAndGlyphs" stroke="#0e3a14" stroke-width="0.25">1.6</text>
<line x1="841.1" y1="526.14" x2="843.3" y2="526.14" stroke="#f070ac" stroke-width="1.1"/>
<line x1="841.1" y1="505.48" x2="845.3" y2="505.48" stroke="#f070ac" stroke-width="1.1"/>
<line x1="841.1" y1="484.82" x2="843.3" y2="484.82" stroke="#f070ac" stroke-width="1.1"/>
<line x1="841.1" y1="464.16" x2="845.3" y2="464.16" stroke="#f070ac" stroke-width="1.1"/>
<line x1="841.1" y1="443.5" x2="843.3" y2="443.5" stroke="#f070ac" stroke-width="1.1"/>
<line x1="841.1" y1="422.84" x2="845.3" y2="422.84" stroke="#f070ac" stroke-width="1.1"/>
<line x1="841.1" y1="402.18" x2="843.3" y2="402.18" stroke="#f070ac" stroke-width="1.1"/>
<line x1="841.1" y1="381.52" x2="845.3" y2="381.52" stroke="#f070ac" stroke-width="1.1"/>
<line x1="841.1" y1="360.86" x2="843.3" y2="360.86" stroke="#f070ac" stroke-width="1.1"/>
<line x1="841.1" y1="340.2" x2="845.3" y2="340.2" stroke="#f070ac" stroke-width="1.1"/>
<text x="847.4" y="345.8" font-size="18" fill="#e8108a" font-weight="normal" text-anchor="start" stroke="#e8108a" stroke-width="0.1">0</text>
<text x="847.4" y="387.12" font-size="18" fill="#e8108a" font-weight="normal" text-anchor="start" stroke="#e8108a" stroke-width="0.1">-2</text>
<text x="847.4" y="428.44" font-size="18" fill="#e8108a" font-weight="normal" text-anchor="start" stroke="#e8108a" stroke-width="0.1">-4</text>
<text x="847.4" y="469.76" font-size="18" fill="#e8108a" font-weight="normal" text-anchor="start" stroke="#e8108a" stroke-width="0.1">-6</text>
<text x="847.4" y="511.08" font-size="18" fill="#e8108a" font-weight="normal" text-anchor="start" stroke="#e8108a" stroke-width="0.1">-8</text>
<g transform="translate(510.3 467.2) rotate(-90)">
<text x="0" y="0" font-size="18" fill="#0e3a14" stroke="#0e3a14" stroke-width="0.25" textLength="88" lengthAdjust="spacingAndGlyphs">δE<tspan font-size="16.6" dy="4.2">ME</tspan><tspan dy="-4.2"> (eV)</tspan></text>
</g>
<g transform="translate(892.8 477.4) rotate(-90)">
<text x="0" y="0" font-size="18" fill="#e8108a" font-weight="normal" text-anchor="start" textLength="110.2" lengthAdjust="spacingAndGlyphs" stroke="#e8108a" stroke-width="0.25">ΔG (Kcal/mol)</text>
</g>
<polyline points="588,331.9 644.1,468.5 700.2,476.8 756.3,501.3 812.4,510" stroke="#0e3a14" stroke-width="1.6" fill="none" stroke-dasharray="5.6 3.6"/>
<polyline points="588,340.8 644.1,475.6 700.2,489.8 756.3,507.9 812.4,509.8" stroke="#e8108a" stroke-width="1.6" fill="none" stroke-dasharray="5.6 3.6"/>
<circle cx="588" cy="331.9" r="4.8" fill="#0a3210"/>
<circle cx="644.1" cy="468.5" r="4.8" fill="#0a3210"/>
<circle cx="700.2" cy="476.8" r="4.8" fill="#0a3210"/>
<circle cx="756.3" cy="501.3" r="4.8" fill="#0a3210"/>
<circle cx="812.4" cy="510" r="4.8" fill="#0a3210"/>
<polygon points="588,335.4 593.42,339.34 591.35,345.71 584.65,345.71 582.58,339.34" fill="#f01490" stroke="none" stroke-width="0"/>
<polygon points="644.1,470.2 649.52,474.14 647.45,480.51 640.75,480.51 638.68,474.14" fill="#f01490" stroke="none" stroke-width="0"/>
<polygon points="700.2,484.4 705.62,488.34 703.55,494.71 696.85,494.71 694.78,488.34" fill="#f01490" stroke="none" stroke-width="0"/>
<polygon points="756.3,502.5 761.72,506.44 759.65,512.81 752.95,512.81 750.88,506.44" fill="#f01490" stroke="none" stroke-width="0"/>
<polygon points="812.4,504.4 817.82,508.34 815.75,514.71 809.05,514.71 806.98,508.34" fill="#f01490" stroke="none" stroke-width="0"/>
<g transform="translate(598.4 551) rotate(-24.6)">
<text x="0" y="0" font-size="15.3" fill="#111" font-weight="normal" text-anchor="end" stroke="#111" stroke-width="0.25">P5SA</text>
</g>
<g transform="translate(654.5 551) rotate(-24.6)">
<text x="0" y="0" font-size="15.3" fill="#111" font-weight="normal" text-anchor="end" stroke="#111" stroke-width="0.25">MV-Ada⊂P5SA</text>
</g>
<g transform="translate(710.6 551) rotate(-24.6)">
<text x="0" y="0" font-size="15.3" fill="#111" font-weight="normal" text-anchor="end" stroke="#111" stroke-width="0.25">TEA-Ada⊂P5SA</text>
</g>
<g transform="translate(766.7 551) rotate(-24.6)">
<text x="0" y="0" font-size="15.3" fill="#111" font-weight="normal" text-anchor="end" stroke="#111" stroke-width="0.25">PyPh-Ada⊂P5SA</text>
</g>
<g transform="translate(822.8 551) rotate(-24.6)">
<text x="0" y="0" font-size="15.3" fill="#111" font-weight="normal" text-anchor="end" stroke="#111" stroke-width="0.25">Miz-Ada⊂P5SA</text>
</g>
<text x="493.3" y="306.1" font-size="19.3" fill="#000" font-weight="bold" text-anchor="start">(c)</text>
</g>
</g>
</svg></body></html>
